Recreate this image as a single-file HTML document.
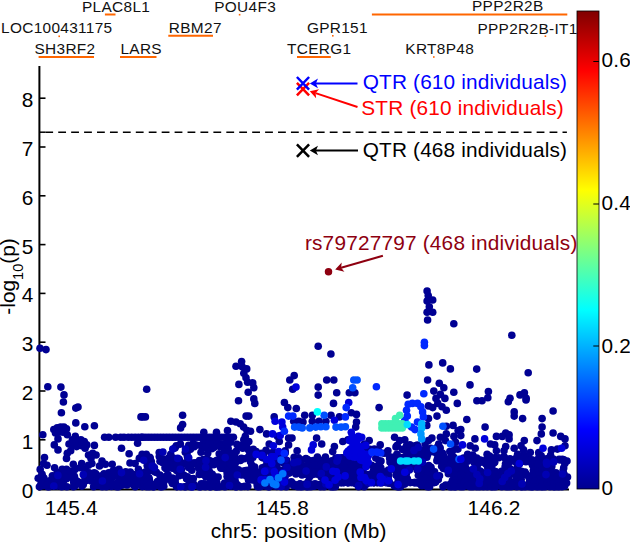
<!DOCTYPE html>
<html><head><meta charset="utf-8"><title>chr5 association plot</title>
<style>html,body{margin:0;padding:0;background:#fff;}svg{display:block;font-family:"Liberation Sans",sans-serif;}</style>
</head><body>
<svg width="630" height="543" viewBox="0 0 630 543">
<defs><linearGradient id="jet" x1="0" y1="1" x2="0" y2="0">
<stop offset="0" stop-color="#00008f"/><stop offset="0.125" stop-color="#0000ff"/><stop offset="0.375" stop-color="#00ffff"/>
<stop offset="0.625" stop-color="#ffff00"/><stop offset="0.875" stop-color="#ff0000"/><stop offset="1" stop-color="#800000"/>
</linearGradient></defs>
<rect width="630" height="543" fill="#fff"/>
<text x="82.0" y="11.7" font-size="15.4" fill="#111" text-anchor="start" letter-spacing="0.33" >PLAC8L1</text>
<text x="1.0" y="32.8" font-size="15.4" fill="#111" text-anchor="start" letter-spacing="0.33" >LOC100431175</text>
<text x="34.5" y="54.1" font-size="15.4" fill="#111" text-anchor="start" letter-spacing="0.33" >SH3RF2</text>
<text x="120.4" y="54.1" font-size="15.4" fill="#111" text-anchor="start" letter-spacing="0.33" >LARS</text>
<text x="168.8" y="33.1" font-size="15.4" fill="#111" text-anchor="start" letter-spacing="0.33" >RBM27</text>
<text x="214.2" y="11.7" font-size="15.4" fill="#111" text-anchor="start" letter-spacing="0.33" >POU4F3</text>
<text x="306.9" y="32.8" font-size="15.4" fill="#111" text-anchor="start" letter-spacing="0.33" >GPR151</text>
<text x="287.1" y="54.1" font-size="15.4" fill="#111" text-anchor="start" letter-spacing="0.33" >TCERG1</text>
<text x="405.3" y="54.3" font-size="15.4" fill="#111" text-anchor="start" letter-spacing="0.33" >KRT8P48</text>
<text x="472.0" y="11.4" font-size="15.4" fill="#111" text-anchor="start" letter-spacing="0.33" >PPP2R2B</text>
<text x="477.4" y="33.8" font-size="15.4" fill="#111" text-anchor="start" letter-spacing="0.33" >PPP2R2B-IT1</text>
<line x1="104.9" y1="14.5" x2="115.5" y2="14.5" stroke="#ff6600" stroke-width="2"/>
<line x1="38.6" y1="57.1" x2="94.0" y2="57.1" stroke="#ff6600" stroke-width="2"/>
<line x1="120.0" y1="57.1" x2="156.5" y2="57.1" stroke="#ff6600" stroke-width="2"/>
<line x1="168.3" y1="35.8" x2="213.0" y2="35.8" stroke="#ff6600" stroke-width="2"/>
<line x1="297.0" y1="57.1" x2="330.8" y2="57.1" stroke="#ff6600" stroke-width="2"/>
<line x1="371.9" y1="14.4" x2="567.3" y2="14.4" stroke="#ff6600" stroke-width="2"/>
<rect x="58.4" y="35.5" width="1.6" height="1.6" fill="#ff6600"/>
<rect x="238.8" y="13.9" width="1.6" height="1.6" fill="#ff6600"/>
<rect x="332.0" y="35.0" width="1.6" height="1.6" fill="#ff6600"/>
<rect x="433.0" y="56.2" width="1.6" height="1.6" fill="#ff6600"/>
<rect x="544.6" y="35.4" width="1.6" height="1.6" fill="#ff6600"/>
<line x1="39.4" y1="66" x2="39.4" y2="490.5" stroke="#000" stroke-width="2"/>
<line x1="38.4" y1="489.5" x2="569" y2="489.5" stroke="#000" stroke-width="2"/>
<text x="33.3" y="497.6" font-size="20.8" fill="#000" text-anchor="end" letter-spacing="0.00" >0</text>
<line x1="39.4" y1="439.8" x2="45.5" y2="439.8" stroke="#000" stroke-width="1.6"/>
<text x="33.3" y="448.8" font-size="20.8" fill="#000" text-anchor="end" letter-spacing="0.00" >1</text>
<line x1="39.4" y1="391.0" x2="45.5" y2="391.0" stroke="#000" stroke-width="1.6"/>
<text x="33.3" y="400.0" font-size="20.8" fill="#000" text-anchor="end" letter-spacing="0.00" >2</text>
<line x1="39.4" y1="342.2" x2="45.5" y2="342.2" stroke="#000" stroke-width="1.6"/>
<text x="33.3" y="351.2" font-size="20.8" fill="#000" text-anchor="end" letter-spacing="0.00" >3</text>
<line x1="39.4" y1="293.4" x2="45.5" y2="293.4" stroke="#000" stroke-width="1.6"/>
<text x="33.3" y="302.4" font-size="20.8" fill="#000" text-anchor="end" letter-spacing="0.00" >4</text>
<line x1="39.4" y1="244.6" x2="45.5" y2="244.6" stroke="#000" stroke-width="1.6"/>
<text x="33.3" y="253.6" font-size="20.8" fill="#000" text-anchor="end" letter-spacing="0.00" >5</text>
<line x1="39.4" y1="195.8" x2="45.5" y2="195.8" stroke="#000" stroke-width="1.6"/>
<text x="33.3" y="204.8" font-size="20.8" fill="#000" text-anchor="end" letter-spacing="0.00" >6</text>
<line x1="39.4" y1="147.0" x2="45.5" y2="147.0" stroke="#000" stroke-width="1.6"/>
<text x="33.3" y="156.0" font-size="20.8" fill="#000" text-anchor="end" letter-spacing="0.00" >7</text>
<line x1="39.4" y1="98.2" x2="45.5" y2="98.2" stroke="#000" stroke-width="1.6"/>
<text x="33.3" y="107.2" font-size="20.8" fill="#000" text-anchor="end" letter-spacing="0.00" >8</text>
<line x1="71.3" y1="489" x2="71.3" y2="483" stroke="#000" stroke-width="1.6"/>
<text x="71.3" y="515.4" font-size="20.8" fill="#000" text-anchor="middle" letter-spacing="0.20" >145.4</text>
<line x1="282.6" y1="489" x2="282.6" y2="483" stroke="#000" stroke-width="1.6"/>
<text x="282.6" y="515.4" font-size="20.8" fill="#000" text-anchor="middle" letter-spacing="0.20" >145.8</text>
<line x1="494.0" y1="489" x2="494.0" y2="483" stroke="#000" stroke-width="1.6"/>
<text x="494.0" y="515.4" font-size="20.8" fill="#000" text-anchor="middle" letter-spacing="0.20" >146.2</text>
<text x="298.7" y="537.9" font-size="20.8" fill="#000" text-anchor="middle" letter-spacing="0.20" >chr5: position (Mb)</text>
<text transform="translate(14.5,276.5) rotate(-90)" font-size="20.8" text-anchor="middle" fill="#000">-log<tspan font-size="14.5" dy="8">10</tspan><tspan dy="-8">(p)</tspan></text>
<line x1="39.4" y1="132.2" x2="45.3" y2="132.2" stroke="#000" stroke-width="1.5"/>
<line x1="45.3" y1="132.2" x2="566.9" y2="132.2" stroke="#000" stroke-width="1.5" stroke-dasharray="7.8,5.13"/>
<rect x="577" y="11" width="22" height="478" fill="url(#jet)" stroke="#000" stroke-width="0.8"/>
<text x="601.6" y="495.3" font-size="20.8" fill="#000" text-anchor="start" letter-spacing="0.20" >0</text>
<line x1="593.3" y1="346.0" x2="599" y2="346.0" stroke="#000" stroke-width="1"/>
<text x="601.6" y="352.8" font-size="20.8" fill="#000" text-anchor="start" letter-spacing="0.20" >0.2</text>
<line x1="593.3" y1="204.0" x2="599" y2="204.0" stroke="#000" stroke-width="1"/>
<text x="601.6" y="210.2" font-size="20.8" fill="#000" text-anchor="start" letter-spacing="0.20" >0.4</text>
<line x1="593.3" y1="61.5" x2="599" y2="61.5" stroke="#000" stroke-width="1"/>
<text x="601.6" y="67.3" font-size="20.8" fill="#000" text-anchor="start" letter-spacing="0.20" >0.6</text>
<circle cx="63.2" cy="475.7" r="3.8" fill="#000093"/><circle cx="68.3" cy="476.2" r="3.8" fill="#000093"/><circle cx="84.3" cy="475.7" r="3.8" fill="#000093"/><circle cx="38.2" cy="478.3" r="3.8" fill="#000093"/><circle cx="40.3" cy="477.7" r="3.8" fill="#000093"/><circle cx="56.0" cy="479.6" r="3.8" fill="#000093"/><circle cx="59.3" cy="480.2" r="3.8" fill="#000093"/><circle cx="65.3" cy="477.3" r="3.8" fill="#000093"/><circle cx="66.5" cy="478.8" r="3.8" fill="#000093"/><circle cx="73.1" cy="479.1" r="3.8" fill="#000093"/><circle cx="86.3" cy="480.5" r="3.8" fill="#000093"/><circle cx="42.6" cy="485.0" r="3.8" fill="#000093"/><circle cx="45.9" cy="483.7" r="3.8" fill="#000093"/><circle cx="49.3" cy="481.6" r="3.8" fill="#000093"/><circle cx="53.5" cy="482.1" r="3.8" fill="#000093"/><circle cx="57.6" cy="482.9" r="3.8" fill="#000093"/><circle cx="78.1" cy="481.8" r="3.8" fill="#000093"/><circle cx="79.7" cy="483.0" r="3.8" fill="#000093"/><circle cx="83.1" cy="482.8" r="3.8" fill="#000093"/><circle cx="39.4" cy="486.7" r="3.8" fill="#000093"/><circle cx="42.7" cy="485.7" r="3.8" fill="#000093"/><circle cx="47.7" cy="486.7" r="3.8" fill="#000093"/><circle cx="49.1" cy="486.7" r="3.8" fill="#000093"/><circle cx="57.3" cy="486.1" r="3.8" fill="#000093"/><circle cx="61.7" cy="486.7" r="3.8" fill="#000093"/><circle cx="66.9" cy="486.7" r="3.8" fill="#000093"/><circle cx="73.4" cy="486.7" r="3.8" fill="#000093"/><circle cx="74.8" cy="485.9" r="3.8" fill="#000093"/><circle cx="81.9" cy="486.1" r="3.8" fill="#000093"/><circle cx="124.9" cy="475.5" r="3.8" fill="#000093"/><circle cx="129.2" cy="474.6" r="3.8" fill="#000093"/><circle cx="140.0" cy="474.4" r="3.8" fill="#000093"/><circle cx="111.2" cy="479.5" r="3.8" fill="#000093"/><circle cx="125.2" cy="479.0" r="3.8" fill="#000093"/><circle cx="126.7" cy="479.1" r="3.8" fill="#000093"/><circle cx="134.1" cy="477.6" r="3.8" fill="#000093"/><circle cx="137.4" cy="476.7" r="3.8" fill="#000093"/><circle cx="99.7" cy="482.9" r="3.8" fill="#000093"/><circle cx="107.0" cy="482.4" r="3.8" fill="#000093"/><circle cx="112.2" cy="483.5" r="3.8" fill="#000093"/><circle cx="119.7" cy="481.3" r="3.8" fill="#000093"/><circle cx="125.2" cy="481.7" r="3.8" fill="#000093"/><circle cx="129.5" cy="482.0" r="3.8" fill="#000093"/><circle cx="132.4" cy="482.3" r="3.8" fill="#000093"/><circle cx="135.4" cy="480.4" r="3.8" fill="#000093"/><circle cx="140.8" cy="483.1" r="3.8" fill="#000093"/><circle cx="93.6" cy="486.7" r="3.8" fill="#000093"/><circle cx="98.1" cy="485.6" r="3.8" fill="#000093"/><circle cx="102.2" cy="486.7" r="3.8" fill="#000093"/><circle cx="106.3" cy="486.7" r="3.8" fill="#000093"/><circle cx="111.5" cy="486.4" r="3.8" fill="#000093"/><circle cx="116.7" cy="486.7" r="3.8" fill="#000093"/><circle cx="118.5" cy="486.7" r="3.8" fill="#000093"/><circle cx="122.3" cy="485.1" r="3.8" fill="#000093"/><circle cx="127.0" cy="484.9" r="3.8" fill="#000093"/><circle cx="133.8" cy="485.2" r="3.8" fill="#000093"/><circle cx="135.2" cy="486.7" r="3.8" fill="#000093"/><circle cx="203.8" cy="441.0" r="3.8" fill="#000093"/><circle cx="213.4" cy="440.5" r="3.8" fill="#000093"/><circle cx="243.8" cy="439.9" r="3.8" fill="#000093"/><circle cx="176.3" cy="445.7" r="3.8" fill="#000093"/><circle cx="180.4" cy="444.1" r="3.8" fill="#000093"/><circle cx="188.7" cy="445.4" r="3.8" fill="#000093"/><circle cx="193.2" cy="443.5" r="3.8" fill="#000093"/><circle cx="196.3" cy="445.0" r="3.8" fill="#000093"/><circle cx="200.6" cy="445.4" r="3.8" fill="#000093"/><circle cx="205.7" cy="443.1" r="3.8" fill="#000093"/><circle cx="209.5" cy="443.9" r="3.8" fill="#000093"/><circle cx="216.9" cy="444.3" r="3.8" fill="#000093"/><circle cx="218.7" cy="443.5" r="3.8" fill="#000093"/><circle cx="223.6" cy="444.1" r="3.8" fill="#000093"/><circle cx="226.1" cy="443.2" r="3.8" fill="#000093"/><circle cx="230.6" cy="442.3" r="3.8" fill="#000093"/><circle cx="236.9" cy="444.2" r="3.8" fill="#000093"/><circle cx="241.7" cy="445.5" r="3.8" fill="#000093"/><circle cx="247.0" cy="442.8" r="3.8" fill="#000093"/><circle cx="175.0" cy="447.9" r="3.8" fill="#000093"/><circle cx="190.4" cy="449.3" r="3.8" fill="#000093"/><circle cx="194.2" cy="446.7" r="3.8" fill="#000093"/><circle cx="203.1" cy="447.3" r="3.8" fill="#000093"/><circle cx="206.5" cy="447.9" r="3.8" fill="#000093"/><circle cx="211.8" cy="448.8" r="3.8" fill="#000093"/><circle cx="213.8" cy="447.5" r="3.8" fill="#000093"/><circle cx="219.7" cy="446.5" r="3.8" fill="#000093"/><circle cx="224.4" cy="449.1" r="3.8" fill="#000093"/><circle cx="228.1" cy="448.3" r="3.8" fill="#000093"/><circle cx="238.3" cy="446.6" r="3.8" fill="#000093"/><circle cx="242.7" cy="448.2" r="3.8" fill="#000093"/><circle cx="246.9" cy="447.3" r="3.8" fill="#000093"/><circle cx="142.1" cy="454.4" r="3.8" fill="#000093"/><circle cx="146.3" cy="454.2" r="3.8" fill="#000093"/><circle cx="159.2" cy="452.5" r="3.8" fill="#000093"/><circle cx="170.7" cy="454.3" r="3.8" fill="#000093"/><circle cx="185.3" cy="452.2" r="3.8" fill="#000093"/><circle cx="187.6" cy="451.2" r="3.8" fill="#000093"/><circle cx="201.0" cy="452.2" r="3.8" fill="#000093"/><circle cx="207.7" cy="453.2" r="3.8" fill="#000093"/><circle cx="219.2" cy="453.7" r="3.8" fill="#000093"/><circle cx="222.0" cy="454.3" r="3.8" fill="#000093"/><circle cx="227.4" cy="451.9" r="3.8" fill="#000093"/><circle cx="231.4" cy="453.3" r="3.8" fill="#000093"/><circle cx="236.2" cy="451.4" r="3.8" fill="#000093"/><circle cx="143.9" cy="456.8" r="3.8" fill="#000093"/><circle cx="144.7" cy="456.4" r="3.8" fill="#000093"/><circle cx="149.7" cy="457.3" r="3.8" fill="#000093"/><circle cx="159.3" cy="456.5" r="3.8" fill="#000093"/><circle cx="162.7" cy="458.8" r="3.8" fill="#000093"/><circle cx="168.3" cy="458.4" r="3.8" fill="#000093"/><circle cx="171.1" cy="456.6" r="3.8" fill="#000093"/><circle cx="187.4" cy="456.6" r="3.8" fill="#000093"/><circle cx="207.2" cy="458.7" r="3.8" fill="#000093"/><circle cx="220.5" cy="456.0" r="3.8" fill="#000093"/><circle cx="223.0" cy="455.6" r="3.8" fill="#000093"/><circle cx="228.8" cy="455.5" r="3.8" fill="#000093"/><circle cx="232.6" cy="456.6" r="3.8" fill="#000093"/><circle cx="234.7" cy="456.2" r="3.8" fill="#000093"/><circle cx="241.4" cy="458.4" r="3.8" fill="#000093"/><circle cx="244.2" cy="458.7" r="3.8" fill="#000093"/><circle cx="147.0" cy="461.0" r="3.8" fill="#000093"/><circle cx="162.4" cy="462.4" r="3.8" fill="#000093"/><circle cx="166.7" cy="463.1" r="3.8" fill="#000093"/><circle cx="171.1" cy="460.2" r="3.8" fill="#000093"/><circle cx="178.1" cy="461.3" r="3.8" fill="#000093"/><circle cx="180.4" cy="461.9" r="3.8" fill="#000093"/><circle cx="187.9" cy="459.6" r="3.8" fill="#000093"/><circle cx="195.1" cy="462.7" r="3.8" fill="#000093"/><circle cx="199.5" cy="460.6" r="3.8" fill="#000093"/><circle cx="203.1" cy="459.5" r="3.8" fill="#000093"/><circle cx="210.0" cy="460.7" r="3.8" fill="#000093"/><circle cx="216.9" cy="460.2" r="3.8" fill="#000093"/><circle cx="220.6" cy="461.0" r="3.8" fill="#000093"/><circle cx="223.2" cy="462.9" r="3.8" fill="#000093"/><circle cx="229.5" cy="459.5" r="3.8" fill="#000093"/><circle cx="233.3" cy="459.5" r="3.8" fill="#000093"/><circle cx="238.2" cy="460.4" r="3.8" fill="#000093"/><circle cx="240.3" cy="460.4" r="3.8" fill="#000093"/><circle cx="167.5" cy="465.6" r="3.8" fill="#000093"/><circle cx="173.2" cy="466.5" r="3.8" fill="#000093"/><circle cx="176.8" cy="464.9" r="3.8" fill="#000093"/><circle cx="181.8" cy="464.0" r="3.8" fill="#000093"/><circle cx="184.0" cy="463.9" r="3.8" fill="#000093"/><circle cx="188.6" cy="467.4" r="3.8" fill="#000093"/><circle cx="192.7" cy="464.0" r="3.8" fill="#000093"/><circle cx="198.7" cy="465.4" r="3.8" fill="#000093"/><circle cx="202.7" cy="466.3" r="3.8" fill="#000093"/><circle cx="207.1" cy="464.2" r="3.8" fill="#000093"/><circle cx="211.1" cy="465.1" r="3.8" fill="#000093"/><circle cx="214.1" cy="464.6" r="3.8" fill="#000093"/><circle cx="219.7" cy="464.9" r="3.8" fill="#000093"/><circle cx="223.7" cy="464.6" r="3.8" fill="#000093"/><circle cx="229.9" cy="464.1" r="3.8" fill="#000093"/><circle cx="233.6" cy="467.2" r="3.8" fill="#000093"/><circle cx="147.4" cy="471.6" r="3.8" fill="#000093"/><circle cx="151.1" cy="468.8" r="3.8" fill="#000093"/><circle cx="153.8" cy="469.0" r="3.8" fill="#000093"/><circle cx="166.6" cy="469.2" r="3.8" fill="#000093"/><circle cx="172.3" cy="468.2" r="3.8" fill="#000093"/><circle cx="176.6" cy="470.4" r="3.8" fill="#000093"/><circle cx="181.4" cy="469.5" r="3.8" fill="#000093"/><circle cx="199.8" cy="469.4" r="3.8" fill="#000093"/><circle cx="201.1" cy="468.0" r="3.8" fill="#000093"/><circle cx="207.7" cy="469.5" r="3.8" fill="#000093"/><circle cx="221.0" cy="468.3" r="3.8" fill="#000093"/><circle cx="223.7" cy="468.5" r="3.8" fill="#000093"/><circle cx="229.6" cy="468.4" r="3.8" fill="#000093"/><circle cx="234.1" cy="468.7" r="3.8" fill="#000093"/><circle cx="238.4" cy="469.8" r="3.8" fill="#000093"/><circle cx="240.5" cy="471.4" r="3.8" fill="#000093"/><circle cx="243.9" cy="471.0" r="3.8" fill="#000093"/><circle cx="143.3" cy="475.4" r="3.8" fill="#000093"/><circle cx="145.9" cy="474.3" r="3.8" fill="#000093"/><circle cx="156.4" cy="472.4" r="3.8" fill="#000093"/><circle cx="168.0" cy="474.7" r="3.8" fill="#000093"/><circle cx="180.5" cy="472.4" r="3.8" fill="#000093"/><circle cx="184.0" cy="475.2" r="3.8" fill="#000093"/><circle cx="202.0" cy="474.2" r="3.8" fill="#000093"/><circle cx="204.9" cy="475.1" r="3.8" fill="#000093"/><circle cx="209.1" cy="474.2" r="3.8" fill="#000093"/><circle cx="228.0" cy="475.9" r="3.8" fill="#000093"/><circle cx="233.4" cy="475.8" r="3.8" fill="#000093"/><circle cx="237.6" cy="472.9" r="3.8" fill="#000093"/><circle cx="242.1" cy="472.8" r="3.8" fill="#000093"/><circle cx="244.1" cy="473.3" r="3.8" fill="#000093"/><circle cx="145.0" cy="480.1" r="3.8" fill="#000093"/><circle cx="149.3" cy="479.6" r="3.8" fill="#000093"/><circle cx="160.6" cy="478.7" r="3.8" fill="#000093"/><circle cx="162.0" cy="480.4" r="3.8" fill="#000093"/><circle cx="172.4" cy="478.0" r="3.8" fill="#000093"/><circle cx="175.2" cy="479.4" r="3.8" fill="#000093"/><circle cx="186.8" cy="478.8" r="3.8" fill="#000093"/><circle cx="187.4" cy="476.7" r="3.8" fill="#000093"/><circle cx="193.3" cy="478.5" r="3.8" fill="#000093"/><circle cx="205.9" cy="477.0" r="3.8" fill="#000093"/><circle cx="211.1" cy="478.8" r="3.8" fill="#000093"/><circle cx="215.0" cy="477.1" r="3.8" fill="#000093"/><circle cx="218.1" cy="477.0" r="3.8" fill="#000093"/><circle cx="227.1" cy="476.6" r="3.8" fill="#000093"/><circle cx="231.7" cy="479.0" r="3.8" fill="#000093"/><circle cx="147.4" cy="480.9" r="3.8" fill="#000093"/><circle cx="149.2" cy="481.6" r="3.8" fill="#000093"/><circle cx="155.4" cy="484.0" r="3.8" fill="#000093"/><circle cx="158.4" cy="481.1" r="3.8" fill="#000093"/><circle cx="164.3" cy="480.9" r="3.8" fill="#000093"/><circle cx="171.9" cy="481.7" r="3.8" fill="#000093"/><circle cx="174.6" cy="482.2" r="3.8" fill="#000093"/><circle cx="189.1" cy="483.9" r="3.8" fill="#000093"/><circle cx="194.1" cy="484.6" r="3.8" fill="#000093"/><circle cx="201.2" cy="483.7" r="3.8" fill="#000093"/><circle cx="205.8" cy="484.2" r="3.8" fill="#000093"/><circle cx="212.3" cy="483.3" r="3.8" fill="#000093"/><circle cx="216.9" cy="482.7" r="3.8" fill="#000093"/><circle cx="224.6" cy="483.1" r="3.8" fill="#000093"/><circle cx="228.5" cy="481.2" r="3.8" fill="#000093"/><circle cx="230.5" cy="481.3" r="3.8" fill="#000093"/><circle cx="235.2" cy="481.0" r="3.8" fill="#000093"/><circle cx="142.3" cy="486.6" r="3.8" fill="#000093"/><circle cx="147.8" cy="485.4" r="3.8" fill="#000093"/><circle cx="152.3" cy="485.6" r="3.8" fill="#000093"/><circle cx="153.1" cy="486.7" r="3.8" fill="#000093"/><circle cx="160.4" cy="486.7" r="3.8" fill="#000093"/><circle cx="162.0" cy="486.7" r="3.8" fill="#000093"/><circle cx="177.2" cy="486.6" r="3.8" fill="#000093"/><circle cx="184.7" cy="486.7" r="3.8" fill="#000093"/><circle cx="190.1" cy="486.7" r="3.8" fill="#000093"/><circle cx="200.3" cy="486.7" r="3.8" fill="#000093"/><circle cx="205.3" cy="486.7" r="3.8" fill="#000093"/><circle cx="209.9" cy="486.7" r="3.8" fill="#000093"/><circle cx="215.9" cy="486.7" r="3.8" fill="#000093"/><circle cx="217.8" cy="486.7" r="3.8" fill="#000093"/><circle cx="224.2" cy="486.5" r="3.8" fill="#000093"/><circle cx="231.2" cy="486.2" r="3.8" fill="#000093"/><circle cx="236.1" cy="486.7" r="3.8" fill="#000093"/><circle cx="241.0" cy="486.7" r="3.8" fill="#000093"/><circle cx="244.6" cy="486.4" r="3.8" fill="#000093"/><circle cx="248.6" cy="450.0" r="3.8" fill="#000093"/><circle cx="253.3" cy="449.4" r="3.8" fill="#000093"/><circle cx="266.0" cy="450.4" r="3.8" fill="#000093"/><circle cx="285.2" cy="450.9" r="3.8" fill="#000093"/><circle cx="249.8" cy="454.5" r="3.8" fill="#000093"/><circle cx="251.1" cy="453.9" r="3.8" fill="#000093"/><circle cx="256.2" cy="451.6" r="3.8" fill="#000093"/><circle cx="261.6" cy="453.4" r="3.8" fill="#000093"/><circle cx="263.8" cy="453.8" r="3.8" fill="#000093"/><circle cx="271.1" cy="453.1" r="3.8" fill="#000093"/><circle cx="273.5" cy="452.4" r="3.8" fill="#000093"/><circle cx="279.1" cy="454.2" r="3.8" fill="#000093"/><circle cx="282.9" cy="453.2" r="3.8" fill="#000093"/><circle cx="285.2" cy="453.1" r="3.8" fill="#000093"/><circle cx="248.5" cy="456.8" r="3.8" fill="#000093"/><circle cx="252.8" cy="457.4" r="3.8" fill="#000093"/><circle cx="262.0" cy="457.3" r="3.8" fill="#000093"/><circle cx="263.4" cy="457.9" r="3.8" fill="#000093"/><circle cx="271.2" cy="457.8" r="3.8" fill="#000093"/><circle cx="274.0" cy="458.5" r="3.8" fill="#000093"/><circle cx="279.4" cy="457.8" r="3.8" fill="#000093"/><circle cx="281.3" cy="458.4" r="3.8" fill="#000093"/><circle cx="250.5" cy="461.7" r="3.8" fill="#000093"/><circle cx="266.9" cy="462.1" r="3.8" fill="#000093"/><circle cx="269.1" cy="460.9" r="3.8" fill="#000093"/><circle cx="275.0" cy="462.5" r="3.8" fill="#000093"/><circle cx="277.1" cy="463.8" r="3.8" fill="#000093"/><circle cx="283.6" cy="463.2" r="3.8" fill="#000093"/><circle cx="286.9" cy="460.6" r="3.8" fill="#000093"/><circle cx="251.8" cy="465.4" r="3.8" fill="#000093"/><circle cx="254.7" cy="467.1" r="3.8" fill="#000093"/><circle cx="264.9" cy="466.8" r="3.8" fill="#000093"/><circle cx="271.1" cy="467.6" r="3.8" fill="#000093"/><circle cx="275.3" cy="467.4" r="3.8" fill="#000093"/><circle cx="287.3" cy="465.4" r="3.8" fill="#000093"/><circle cx="251.7" cy="469.3" r="3.8" fill="#000093"/><circle cx="255.3" cy="472.1" r="3.8" fill="#000093"/><circle cx="261.5" cy="472.1" r="3.8" fill="#000093"/><circle cx="264.1" cy="471.3" r="3.8" fill="#000093"/><circle cx="269.3" cy="472.1" r="3.8" fill="#000093"/><circle cx="278.0" cy="469.3" r="3.8" fill="#000093"/><circle cx="282.6" cy="472.0" r="3.8" fill="#000093"/><circle cx="286.6" cy="470.8" r="3.8" fill="#000093"/><circle cx="254.1" cy="473.3" r="3.8" fill="#000093"/><circle cx="254.8" cy="475.3" r="3.8" fill="#000093"/><circle cx="260.3" cy="476.7" r="3.8" fill="#000093"/><circle cx="266.7" cy="473.1" r="3.8" fill="#000093"/><circle cx="268.9" cy="476.3" r="3.8" fill="#000093"/><circle cx="273.9" cy="475.9" r="3.8" fill="#000093"/><circle cx="277.8" cy="475.1" r="3.8" fill="#000093"/><circle cx="283.6" cy="474.5" r="3.8" fill="#000093"/><circle cx="248.6" cy="480.3" r="3.8" fill="#000093"/><circle cx="251.5" cy="479.5" r="3.8" fill="#000093"/><circle cx="254.9" cy="480.0" r="3.8" fill="#000093"/><circle cx="259.2" cy="478.4" r="3.8" fill="#000093"/><circle cx="266.8" cy="479.6" r="3.8" fill="#000093"/><circle cx="271.1" cy="479.6" r="3.8" fill="#000093"/><circle cx="274.5" cy="479.6" r="3.8" fill="#000093"/><circle cx="278.7" cy="479.0" r="3.8" fill="#000093"/><circle cx="281.2" cy="477.4" r="3.8" fill="#000093"/><circle cx="260.2" cy="483.2" r="3.8" fill="#000093"/><circle cx="263.5" cy="483.8" r="3.8" fill="#000093"/><circle cx="270.7" cy="483.8" r="3.8" fill="#000093"/><circle cx="272.0" cy="483.1" r="3.8" fill="#000093"/><circle cx="279.9" cy="483.4" r="3.8" fill="#000093"/><circle cx="284.8" cy="484.2" r="3.8" fill="#000093"/><circle cx="257.4" cy="486.7" r="3.8" fill="#000093"/><circle cx="259.2" cy="486.7" r="3.8" fill="#000093"/><circle cx="266.1" cy="486.2" r="3.8" fill="#000093"/><circle cx="269.4" cy="486.7" r="3.8" fill="#000093"/><circle cx="274.6" cy="485.9" r="3.8" fill="#000093"/><circle cx="279.3" cy="486.2" r="3.8" fill="#000093"/><circle cx="286.2" cy="486.7" r="3.8" fill="#000093"/><circle cx="294.1" cy="457.3" r="3.8" fill="#000093"/><circle cx="298.5" cy="457.8" r="3.8" fill="#000093"/><circle cx="305.9" cy="458.5" r="3.8" fill="#000093"/><circle cx="317.4" cy="457.1" r="3.8" fill="#000093"/><circle cx="325.4" cy="457.1" r="3.8" fill="#000093"/><circle cx="343.2" cy="457.9" r="3.8" fill="#000093"/><circle cx="345.4" cy="458.1" r="3.8" fill="#000093"/><circle cx="295.8" cy="459.9" r="3.8" fill="#000093"/><circle cx="297.9" cy="461.4" r="3.8" fill="#000093"/><circle cx="302.1" cy="460.1" r="3.8" fill="#000093"/><circle cx="307.4" cy="459.5" r="3.8" fill="#000093"/><circle cx="310.8" cy="461.3" r="3.8" fill="#000093"/><circle cx="316.2" cy="460.9" r="3.8" fill="#000093"/><circle cx="319.3" cy="459.8" r="3.8" fill="#000093"/><circle cx="325.0" cy="460.7" r="3.8" fill="#000093"/><circle cx="327.3" cy="462.9" r="3.8" fill="#000093"/><circle cx="333.8" cy="462.1" r="3.8" fill="#000093"/><circle cx="343.8" cy="462.4" r="3.8" fill="#000093"/><circle cx="345.3" cy="462.1" r="3.8" fill="#000093"/><circle cx="351.5" cy="462.2" r="3.8" fill="#000093"/><circle cx="293.4" cy="463.7" r="3.8" fill="#000093"/><circle cx="300.3" cy="465.2" r="3.8" fill="#000093"/><circle cx="301.6" cy="465.7" r="3.8" fill="#000093"/><circle cx="309.3" cy="464.4" r="3.8" fill="#000093"/><circle cx="313.6" cy="466.0" r="3.8" fill="#000093"/><circle cx="319.4" cy="463.6" r="3.8" fill="#000093"/><circle cx="330.1" cy="466.1" r="3.8" fill="#000093"/><circle cx="331.6" cy="464.0" r="3.8" fill="#000093"/><circle cx="338.3" cy="464.6" r="3.8" fill="#000093"/><circle cx="340.4" cy="464.7" r="3.8" fill="#000093"/><circle cx="346.2" cy="464.1" r="3.8" fill="#000093"/><circle cx="351.2" cy="463.5" r="3.8" fill="#000093"/><circle cx="293.6" cy="471.3" r="3.8" fill="#000093"/><circle cx="297.6" cy="469.4" r="3.8" fill="#000093"/><circle cx="304.5" cy="470.1" r="3.8" fill="#000093"/><circle cx="308.8" cy="469.5" r="3.8" fill="#000093"/><circle cx="310.8" cy="467.9" r="3.8" fill="#000093"/><circle cx="314.8" cy="471.0" r="3.8" fill="#000093"/><circle cx="319.1" cy="468.8" r="3.8" fill="#000093"/><circle cx="323.5" cy="469.6" r="3.8" fill="#000093"/><circle cx="327.6" cy="471.4" r="3.8" fill="#000093"/><circle cx="334.0" cy="468.5" r="3.8" fill="#000093"/><circle cx="336.7" cy="468.5" r="3.8" fill="#000093"/><circle cx="343.8" cy="471.2" r="3.8" fill="#000093"/><circle cx="347.7" cy="467.9" r="3.8" fill="#000093"/><circle cx="352.3" cy="467.8" r="3.8" fill="#000093"/><circle cx="295.9" cy="474.0" r="3.8" fill="#000093"/><circle cx="300.5" cy="472.9" r="3.8" fill="#000093"/><circle cx="302.0" cy="474.9" r="3.8" fill="#000093"/><circle cx="305.9" cy="472.4" r="3.8" fill="#000093"/><circle cx="311.0" cy="472.8" r="3.8" fill="#000093"/><circle cx="317.3" cy="474.2" r="3.8" fill="#000093"/><circle cx="325.9" cy="473.3" r="3.8" fill="#000093"/><circle cx="329.0" cy="472.1" r="3.8" fill="#000093"/><circle cx="334.7" cy="473.0" r="3.8" fill="#000093"/><circle cx="337.1" cy="472.6" r="3.8" fill="#000093"/><circle cx="340.0" cy="474.0" r="3.8" fill="#000093"/><circle cx="344.8" cy="474.7" r="3.8" fill="#000093"/><circle cx="349.8" cy="474.7" r="3.8" fill="#000093"/><circle cx="309.3" cy="477.2" r="3.8" fill="#000093"/><circle cx="321.2" cy="477.1" r="3.8" fill="#000093"/><circle cx="325.0" cy="478.3" r="3.8" fill="#000093"/><circle cx="330.4" cy="479.0" r="3.8" fill="#000093"/><circle cx="333.3" cy="478.2" r="3.8" fill="#000093"/><circle cx="337.3" cy="476.8" r="3.8" fill="#000093"/><circle cx="340.6" cy="478.5" r="3.8" fill="#000093"/><circle cx="347.5" cy="479.9" r="3.8" fill="#000093"/><circle cx="351.8" cy="478.3" r="3.8" fill="#000093"/><circle cx="291.4" cy="481.9" r="3.8" fill="#000093"/><circle cx="294.4" cy="484.4" r="3.8" fill="#000093"/><circle cx="300.1" cy="483.8" r="3.8" fill="#000093"/><circle cx="305.0" cy="484.2" r="3.8" fill="#000093"/><circle cx="308.0" cy="482.0" r="3.8" fill="#000093"/><circle cx="322.2" cy="483.6" r="3.8" fill="#000093"/><circle cx="329.6" cy="481.6" r="3.8" fill="#000093"/><circle cx="333.5" cy="484.1" r="3.8" fill="#000093"/><circle cx="337.7" cy="482.3" r="3.8" fill="#000093"/><circle cx="341.2" cy="482.6" r="3.8" fill="#000093"/><circle cx="348.0" cy="482.6" r="3.8" fill="#000093"/><circle cx="350.7" cy="481.2" r="3.8" fill="#000093"/><circle cx="293.8" cy="485.8" r="3.8" fill="#000093"/><circle cx="300.2" cy="486.7" r="3.8" fill="#000093"/><circle cx="302.1" cy="486.7" r="3.8" fill="#000093"/><circle cx="308.0" cy="486.7" r="3.8" fill="#000093"/><circle cx="310.8" cy="486.7" r="3.8" fill="#000093"/><circle cx="314.3" cy="486.3" r="3.8" fill="#000093"/><circle cx="320.6" cy="486.7" r="3.8" fill="#000093"/><circle cx="324.0" cy="486.7" r="3.8" fill="#000093"/><circle cx="330.4" cy="486.6" r="3.8" fill="#000093"/><circle cx="333.1" cy="486.7" r="3.8" fill="#000093"/><circle cx="339.4" cy="482.6" r="3.8" fill="#000093"/><circle cx="341.4" cy="482.6" r="3.8" fill="#000093"/><circle cx="347.5" cy="482.6" r="3.8" fill="#000093"/><circle cx="351.5" cy="482.6" r="3.8" fill="#000093"/><circle cx="397.2" cy="445.4" r="3.8" fill="#000093"/><circle cx="406.6" cy="445.6" r="3.8" fill="#000093"/><circle cx="417.3" cy="445.1" r="3.8" fill="#000093"/><circle cx="355.6" cy="449.2" r="3.8" fill="#000093"/><circle cx="365.1" cy="449.7" r="3.8" fill="#000093"/><circle cx="370.0" cy="449.2" r="3.8" fill="#000093"/><circle cx="374.2" cy="449.7" r="3.8" fill="#000093"/><circle cx="396.0" cy="446.9" r="3.8" fill="#000093"/><circle cx="402.5" cy="449.4" r="3.8" fill="#000093"/><circle cx="405.6" cy="448.7" r="3.8" fill="#000093"/><circle cx="410.2" cy="447.1" r="3.8" fill="#000093"/><circle cx="424.1" cy="450.0" r="3.8" fill="#000093"/><circle cx="426.3" cy="449.3" r="3.8" fill="#000093"/><circle cx="430.8" cy="448.4" r="3.8" fill="#000093"/><circle cx="437.2" cy="447.4" r="3.8" fill="#000093"/><circle cx="440.2" cy="448.1" r="3.8" fill="#000093"/><circle cx="454.7" cy="449.1" r="3.8" fill="#000093"/><circle cx="457.9" cy="449.1" r="3.8" fill="#000093"/><circle cx="355.7" cy="452.9" r="3.8" fill="#000093"/><circle cx="357.7" cy="454.4" r="3.8" fill="#000093"/><circle cx="363.3" cy="452.8" r="3.8" fill="#000093"/><circle cx="366.4" cy="453.3" r="3.8" fill="#000093"/><circle cx="371.4" cy="452.6" r="3.8" fill="#000093"/><circle cx="377.0" cy="453.1" r="3.8" fill="#000093"/><circle cx="378.9" cy="451.4" r="3.8" fill="#000093"/><circle cx="384.1" cy="453.2" r="3.8" fill="#000093"/><circle cx="386.9" cy="453.0" r="3.8" fill="#000093"/><circle cx="396.8" cy="454.3" r="3.8" fill="#000093"/><circle cx="406.4" cy="451.4" r="3.8" fill="#000093"/><circle cx="408.7" cy="454.7" r="3.8" fill="#000093"/><circle cx="412.8" cy="454.0" r="3.8" fill="#000093"/><circle cx="418.0" cy="451.1" r="3.8" fill="#000093"/><circle cx="422.0" cy="453.7" r="3.8" fill="#000093"/><circle cx="427.6" cy="454.4" r="3.8" fill="#000093"/><circle cx="432.8" cy="451.7" r="3.8" fill="#000093"/><circle cx="436.7" cy="453.6" r="3.8" fill="#000093"/><circle cx="439.5" cy="453.9" r="3.8" fill="#000093"/><circle cx="442.6" cy="453.4" r="3.8" fill="#000093"/><circle cx="449.8" cy="451.5" r="3.8" fill="#000093"/><circle cx="452.0" cy="451.8" r="3.8" fill="#000093"/><circle cx="359.4" cy="456.1" r="3.8" fill="#000093"/><circle cx="363.3" cy="456.8" r="3.8" fill="#000093"/><circle cx="367.0" cy="458.0" r="3.8" fill="#000093"/><circle cx="389.6" cy="457.9" r="3.8" fill="#000093"/><circle cx="391.4" cy="458.6" r="3.8" fill="#000093"/><circle cx="397.4" cy="455.7" r="3.8" fill="#000093"/><circle cx="402.8" cy="457.6" r="3.8" fill="#000093"/><circle cx="405.1" cy="457.1" r="3.8" fill="#000093"/><circle cx="409.3" cy="455.4" r="3.8" fill="#000093"/><circle cx="416.8" cy="455.9" r="3.8" fill="#000093"/><circle cx="421.9" cy="457.3" r="3.8" fill="#000093"/><circle cx="441.4" cy="458.3" r="3.8" fill="#000093"/><circle cx="443.8" cy="456.4" r="3.8" fill="#000093"/><circle cx="450.3" cy="458.0" r="3.8" fill="#000093"/><circle cx="453.8" cy="457.3" r="3.8" fill="#000093"/><circle cx="357.6" cy="463.4" r="3.8" fill="#000093"/><circle cx="361.6" cy="460.6" r="3.8" fill="#000093"/><circle cx="365.0" cy="463.0" r="3.8" fill="#000093"/><circle cx="379.0" cy="460.8" r="3.8" fill="#000093"/><circle cx="390.0" cy="461.9" r="3.8" fill="#000093"/><circle cx="393.0" cy="463.4" r="3.8" fill="#000093"/><circle cx="396.7" cy="463.0" r="3.8" fill="#000093"/><circle cx="404.3" cy="460.7" r="3.8" fill="#000093"/><circle cx="409.5" cy="460.4" r="3.8" fill="#000093"/><circle cx="414.8" cy="460.4" r="3.8" fill="#000093"/><circle cx="418.9" cy="460.0" r="3.8" fill="#000093"/><circle cx="422.2" cy="460.2" r="3.8" fill="#000093"/><circle cx="440.6" cy="461.2" r="3.8" fill="#000093"/><circle cx="442.6" cy="461.2" r="3.8" fill="#000093"/><circle cx="448.0" cy="461.5" r="3.8" fill="#000093"/><circle cx="452.8" cy="459.7" r="3.8" fill="#000093"/><circle cx="459.1" cy="459.9" r="3.8" fill="#000093"/><circle cx="357.0" cy="464.5" r="3.8" fill="#000093"/><circle cx="363.8" cy="465.6" r="3.8" fill="#000093"/><circle cx="371.6" cy="465.2" r="3.8" fill="#000093"/><circle cx="376.3" cy="466.9" r="3.8" fill="#000093"/><circle cx="380.8" cy="467.7" r="3.8" fill="#000093"/><circle cx="392.6" cy="466.5" r="3.8" fill="#000093"/><circle cx="398.9" cy="464.8" r="3.8" fill="#000093"/><circle cx="399.5" cy="464.5" r="3.8" fill="#000093"/><circle cx="405.8" cy="464.7" r="3.8" fill="#000093"/><circle cx="408.6" cy="464.6" r="3.8" fill="#000093"/><circle cx="412.9" cy="464.1" r="3.8" fill="#000093"/><circle cx="420.3" cy="465.9" r="3.8" fill="#000093"/><circle cx="423.9" cy="465.7" r="3.8" fill="#000093"/><circle cx="425.6" cy="466.7" r="3.8" fill="#000093"/><circle cx="431.0" cy="467.2" r="3.8" fill="#000093"/><circle cx="441.7" cy="466.3" r="3.8" fill="#000093"/><circle cx="443.4" cy="465.6" r="3.8" fill="#000093"/><circle cx="449.6" cy="466.4" r="3.8" fill="#000093"/><circle cx="451.8" cy="466.1" r="3.8" fill="#000093"/><circle cx="458.6" cy="465.0" r="3.8" fill="#000093"/><circle cx="358.2" cy="471.6" r="3.8" fill="#000093"/><circle cx="363.0" cy="470.0" r="3.8" fill="#000093"/><circle cx="376.9" cy="469.0" r="3.8" fill="#000093"/><circle cx="379.0" cy="468.4" r="3.8" fill="#000093"/><circle cx="382.2" cy="471.7" r="3.8" fill="#000093"/><circle cx="393.4" cy="468.6" r="3.8" fill="#000093"/><circle cx="399.5" cy="469.2" r="3.8" fill="#000093"/><circle cx="403.8" cy="470.2" r="3.8" fill="#000093"/><circle cx="417.1" cy="470.1" r="3.8" fill="#000093"/><circle cx="421.6" cy="470.9" r="3.8" fill="#000093"/><circle cx="427.1" cy="468.7" r="3.8" fill="#000093"/><circle cx="434.6" cy="471.9" r="3.8" fill="#000093"/><circle cx="443.4" cy="468.5" r="3.8" fill="#000093"/><circle cx="453.6" cy="470.7" r="3.8" fill="#000093"/><circle cx="457.9" cy="472.0" r="3.8" fill="#000093"/><circle cx="358.0" cy="476.3" r="3.8" fill="#000093"/><circle cx="365.0" cy="474.9" r="3.8" fill="#000093"/><circle cx="371.6" cy="474.0" r="3.8" fill="#000093"/><circle cx="374.0" cy="475.8" r="3.8" fill="#000093"/><circle cx="378.1" cy="475.2" r="3.8" fill="#000093"/><circle cx="386.5" cy="475.4" r="3.8" fill="#000093"/><circle cx="396.0" cy="475.0" r="3.8" fill="#000093"/><circle cx="402.1" cy="474.1" r="3.8" fill="#000093"/><circle cx="406.3" cy="473.8" r="3.8" fill="#000093"/><circle cx="418.4" cy="475.3" r="3.8" fill="#000093"/><circle cx="421.7" cy="473.1" r="3.8" fill="#000093"/><circle cx="427.2" cy="474.6" r="3.8" fill="#000093"/><circle cx="430.2" cy="475.7" r="3.8" fill="#000093"/><circle cx="439.5" cy="475.7" r="3.8" fill="#000093"/><circle cx="454.1" cy="474.5" r="3.8" fill="#000093"/><circle cx="456.8" cy="476.4" r="3.8" fill="#000093"/><circle cx="359.3" cy="477.4" r="3.8" fill="#000093"/><circle cx="362.7" cy="477.8" r="3.8" fill="#000093"/><circle cx="366.4" cy="476.9" r="3.8" fill="#000093"/><circle cx="369.5" cy="477.5" r="3.8" fill="#000093"/><circle cx="374.8" cy="477.8" r="3.8" fill="#000093"/><circle cx="380.3" cy="480.1" r="3.8" fill="#000093"/><circle cx="388.2" cy="478.3" r="3.8" fill="#000093"/><circle cx="398.2" cy="478.2" r="3.8" fill="#000093"/><circle cx="406.4" cy="478.3" r="3.8" fill="#000093"/><circle cx="423.8" cy="477.0" r="3.8" fill="#000093"/><circle cx="427.0" cy="480.1" r="3.8" fill="#000093"/><circle cx="432.9" cy="478.5" r="3.8" fill="#000093"/><circle cx="436.9" cy="479.4" r="3.8" fill="#000093"/><circle cx="438.3" cy="479.4" r="3.8" fill="#000093"/><circle cx="454.1" cy="477.2" r="3.8" fill="#000093"/><circle cx="457.4" cy="477.1" r="3.8" fill="#000093"/><circle cx="359.0" cy="482.7" r="3.8" fill="#000093"/><circle cx="363.8" cy="484.5" r="3.8" fill="#000093"/><circle cx="370.3" cy="482.2" r="3.8" fill="#000093"/><circle cx="376.9" cy="482.6" r="3.8" fill="#000093"/><circle cx="378.1" cy="482.3" r="3.8" fill="#000093"/><circle cx="388.5" cy="482.6" r="3.8" fill="#000093"/><circle cx="398.1" cy="481.9" r="3.8" fill="#000093"/><circle cx="399.6" cy="482.4" r="3.8" fill="#000093"/><circle cx="405.8" cy="482.4" r="3.8" fill="#000093"/><circle cx="415.3" cy="482.6" r="3.8" fill="#000093"/><circle cx="418.3" cy="482.6" r="3.8" fill="#000093"/><circle cx="423.3" cy="481.3" r="3.8" fill="#000093"/><circle cx="427.5" cy="481.8" r="3.8" fill="#000093"/><circle cx="432.5" cy="482.6" r="3.8" fill="#000093"/><circle cx="434.9" cy="482.0" r="3.8" fill="#000093"/><circle cx="449.7" cy="484.8" r="3.8" fill="#000093"/><circle cx="452.0" cy="484.6" r="3.8" fill="#000093"/><circle cx="455.5" cy="483.8" r="3.8" fill="#000093"/><circle cx="358.6" cy="486.7" r="3.8" fill="#000093"/><circle cx="364.2" cy="486.7" r="3.8" fill="#000093"/><circle cx="370.7" cy="482.6" r="3.8" fill="#000093"/><circle cx="374.0" cy="482.6" r="3.8" fill="#000093"/><circle cx="380.5" cy="482.6" r="3.8" fill="#000093"/><circle cx="385.7" cy="482.6" r="3.8" fill="#000093"/><circle cx="387.6" cy="482.6" r="3.8" fill="#000093"/><circle cx="394.3" cy="485.8" r="3.8" fill="#000093"/><circle cx="397.4" cy="486.7" r="3.8" fill="#000093"/><circle cx="400.4" cy="486.7" r="3.8" fill="#000093"/><circle cx="410.3" cy="482.6" r="3.8" fill="#000093"/><circle cx="414.8" cy="482.6" r="3.8" fill="#000093"/><circle cx="417.5" cy="482.6" r="3.8" fill="#000093"/><circle cx="422.0" cy="485.7" r="3.8" fill="#000093"/><circle cx="427.3" cy="486.7" r="3.8" fill="#000093"/><circle cx="429.6" cy="486.7" r="3.8" fill="#000093"/><circle cx="434.3" cy="482.6" r="3.8" fill="#000093"/><circle cx="443.0" cy="486.7" r="3.8" fill="#000093"/><circle cx="450.0" cy="486.7" r="3.8" fill="#000093"/><circle cx="454.3" cy="485.9" r="3.8" fill="#000093"/><circle cx="455.7" cy="486.7" r="3.8" fill="#000093"/><circle cx="472.7" cy="455.9" r="3.8" fill="#000093"/><circle cx="489.6" cy="456.0" r="3.8" fill="#000093"/><circle cx="517.6" cy="455.7" r="3.8" fill="#000093"/><circle cx="524.1" cy="455.1" r="3.8" fill="#000093"/><circle cx="539.2" cy="454.7" r="3.8" fill="#000093"/><circle cx="541.2" cy="455.9" r="3.8" fill="#000093"/><circle cx="550.6" cy="455.4" r="3.8" fill="#000093"/><circle cx="463.5" cy="458.0" r="3.8" fill="#000093"/><circle cx="467.4" cy="457.8" r="3.8" fill="#000093"/><circle cx="472.2" cy="458.2" r="3.8" fill="#000093"/><circle cx="476.8" cy="458.0" r="3.8" fill="#000093"/><circle cx="480.4" cy="460.0" r="3.8" fill="#000093"/><circle cx="486.3" cy="459.5" r="3.8" fill="#000093"/><circle cx="491.1" cy="458.4" r="3.8" fill="#000093"/><circle cx="495.4" cy="457.6" r="3.8" fill="#000093"/><circle cx="498.8" cy="457.7" r="3.8" fill="#000093"/><circle cx="504.0" cy="456.7" r="3.8" fill="#000093"/><circle cx="506.7" cy="460.2" r="3.8" fill="#000093"/><circle cx="510.0" cy="458.7" r="3.8" fill="#000093"/><circle cx="515.6" cy="459.7" r="3.8" fill="#000093"/><circle cx="520.8" cy="460.3" r="3.8" fill="#000093"/><circle cx="525.5" cy="458.1" r="3.8" fill="#000093"/><circle cx="528.2" cy="458.1" r="3.8" fill="#000093"/><circle cx="531.9" cy="459.9" r="3.8" fill="#000093"/><circle cx="538.0" cy="460.0" r="3.8" fill="#000093"/><circle cx="540.1" cy="458.2" r="3.8" fill="#000093"/><circle cx="546.6" cy="458.8" r="3.8" fill="#000093"/><circle cx="549.4" cy="459.8" r="3.8" fill="#000093"/><circle cx="553.3" cy="459.1" r="3.8" fill="#000093"/><circle cx="560.4" cy="460.0" r="3.8" fill="#000093"/><circle cx="563.8" cy="459.9" r="3.8" fill="#000093"/><circle cx="460.8" cy="463.2" r="3.8" fill="#000093"/><circle cx="464.7" cy="464.0" r="3.8" fill="#000093"/><circle cx="467.6" cy="461.2" r="3.8" fill="#000093"/><circle cx="474.0" cy="462.2" r="3.8" fill="#000093"/><circle cx="478.5" cy="462.1" r="3.8" fill="#000093"/><circle cx="480.1" cy="461.9" r="3.8" fill="#000093"/><circle cx="486.0" cy="464.0" r="3.8" fill="#000093"/><circle cx="488.6" cy="461.7" r="3.8" fill="#000093"/><circle cx="493.8" cy="463.0" r="3.8" fill="#000093"/><circle cx="505.5" cy="463.8" r="3.8" fill="#000093"/><circle cx="511.3" cy="461.1" r="3.8" fill="#000093"/><circle cx="516.2" cy="462.4" r="3.8" fill="#000093"/><circle cx="531.5" cy="462.7" r="3.8" fill="#000093"/><circle cx="538.1" cy="463.6" r="3.8" fill="#000093"/><circle cx="540.5" cy="462.4" r="3.8" fill="#000093"/><circle cx="546.9" cy="462.8" r="3.8" fill="#000093"/><circle cx="551.1" cy="461.6" r="3.8" fill="#000093"/><circle cx="564.8" cy="463.6" r="3.8" fill="#000093"/><circle cx="465.7" cy="467.9" r="3.8" fill="#000093"/><circle cx="476.0" cy="466.5" r="3.8" fill="#000093"/><circle cx="507.5" cy="467.1" r="3.8" fill="#000093"/><circle cx="509.8" cy="468.6" r="3.8" fill="#000093"/><circle cx="517.7" cy="466.8" r="3.8" fill="#000093"/><circle cx="532.6" cy="465.2" r="3.8" fill="#000093"/><circle cx="537.3" cy="465.3" r="3.8" fill="#000093"/><circle cx="540.1" cy="466.4" r="3.8" fill="#000093"/><circle cx="545.9" cy="467.6" r="3.8" fill="#000093"/><circle cx="551.8" cy="466.6" r="3.8" fill="#000093"/><circle cx="563.7" cy="467.9" r="3.8" fill="#000093"/><circle cx="460.9" cy="469.7" r="3.8" fill="#000093"/><circle cx="465.0" cy="472.2" r="3.8" fill="#000093"/><circle cx="469.3" cy="471.3" r="3.8" fill="#000093"/><circle cx="473.3" cy="469.7" r="3.8" fill="#000093"/><circle cx="476.2" cy="471.0" r="3.8" fill="#000093"/><circle cx="482.0" cy="472.3" r="3.8" fill="#000093"/><circle cx="489.1" cy="473.0" r="3.8" fill="#000093"/><circle cx="496.0" cy="471.9" r="3.8" fill="#000093"/><circle cx="508.1" cy="470.2" r="3.8" fill="#000093"/><circle cx="511.6" cy="469.9" r="3.8" fill="#000093"/><circle cx="517.5" cy="469.5" r="3.8" fill="#000093"/><circle cx="521.4" cy="471.4" r="3.8" fill="#000093"/><circle cx="535.5" cy="472.3" r="3.8" fill="#000093"/><circle cx="542.9" cy="471.2" r="3.8" fill="#000093"/><circle cx="544.9" cy="471.1" r="3.8" fill="#000093"/><circle cx="550.5" cy="470.8" r="3.8" fill="#000093"/><circle cx="555.9" cy="472.7" r="3.8" fill="#000093"/><circle cx="461.0" cy="473.8" r="3.8" fill="#000093"/><circle cx="465.0" cy="476.1" r="3.8" fill="#000093"/><circle cx="468.2" cy="476.1" r="3.8" fill="#000093"/><circle cx="473.8" cy="476.8" r="3.8" fill="#000093"/><circle cx="478.0" cy="473.9" r="3.8" fill="#000093"/><circle cx="481.2" cy="477.1" r="3.8" fill="#000093"/><circle cx="485.6" cy="476.5" r="3.8" fill="#000093"/><circle cx="489.5" cy="475.0" r="3.8" fill="#000093"/><circle cx="496.2" cy="476.3" r="3.8" fill="#000093"/><circle cx="500.0" cy="477.6" r="3.8" fill="#000093"/><circle cx="502.0" cy="475.3" r="3.8" fill="#000093"/><circle cx="508.8" cy="477.3" r="3.8" fill="#000093"/><circle cx="517.0" cy="475.8" r="3.8" fill="#000093"/><circle cx="519.5" cy="476.2" r="3.8" fill="#000093"/><circle cx="526.3" cy="474.4" r="3.8" fill="#000093"/><circle cx="528.9" cy="477.3" r="3.8" fill="#000093"/><circle cx="533.8" cy="477.5" r="3.8" fill="#000093"/><circle cx="536.6" cy="477.2" r="3.8" fill="#000093"/><circle cx="542.5" cy="477.5" r="3.8" fill="#000093"/><circle cx="546.7" cy="476.4" r="3.8" fill="#000093"/><circle cx="549.3" cy="474.8" r="3.8" fill="#000093"/><circle cx="553.5" cy="474.8" r="3.8" fill="#000093"/><circle cx="559.2" cy="476.3" r="3.8" fill="#000093"/><circle cx="462.8" cy="480.0" r="3.8" fill="#000093"/><circle cx="467.7" cy="481.0" r="3.8" fill="#000093"/><circle cx="472.2" cy="479.6" r="3.8" fill="#000093"/><circle cx="478.1" cy="478.4" r="3.8" fill="#000093"/><circle cx="482.8" cy="478.2" r="3.8" fill="#000093"/><circle cx="487.1" cy="481.1" r="3.8" fill="#000093"/><circle cx="488.2" cy="478.8" r="3.8" fill="#000093"/><circle cx="495.0" cy="480.3" r="3.8" fill="#000093"/><circle cx="502.6" cy="480.6" r="3.8" fill="#000093"/><circle cx="505.6" cy="478.1" r="3.8" fill="#000093"/><circle cx="516.7" cy="478.6" r="3.8" fill="#000093"/><circle cx="519.7" cy="480.1" r="3.8" fill="#000093"/><circle cx="532.1" cy="478.8" r="3.8" fill="#000093"/><circle cx="536.9" cy="480.5" r="3.8" fill="#000093"/><circle cx="540.0" cy="480.6" r="3.8" fill="#000093"/><circle cx="544.2" cy="479.7" r="3.8" fill="#000093"/><circle cx="551.1" cy="478.4" r="3.8" fill="#000093"/><circle cx="553.4" cy="479.0" r="3.8" fill="#000093"/><circle cx="557.3" cy="479.5" r="3.8" fill="#000093"/><circle cx="563.4" cy="478.4" r="3.8" fill="#000093"/><circle cx="460.2" cy="485.7" r="3.8" fill="#000093"/><circle cx="462.8" cy="486.0" r="3.8" fill="#000093"/><circle cx="467.3" cy="485.7" r="3.8" fill="#000093"/><circle cx="472.0" cy="485.9" r="3.8" fill="#000093"/><circle cx="475.6" cy="484.1" r="3.8" fill="#000093"/><circle cx="482.1" cy="483.8" r="3.8" fill="#000093"/><circle cx="485.7" cy="483.1" r="3.8" fill="#000093"/><circle cx="490.2" cy="482.5" r="3.8" fill="#000093"/><circle cx="494.5" cy="483.3" r="3.8" fill="#000093"/><circle cx="499.3" cy="482.9" r="3.8" fill="#000093"/><circle cx="503.9" cy="485.6" r="3.8" fill="#000093"/><circle cx="506.1" cy="483.2" r="3.8" fill="#000093"/><circle cx="510.0" cy="483.2" r="3.8" fill="#000093"/><circle cx="514.5" cy="483.1" r="3.8" fill="#000093"/><circle cx="528.7" cy="484.3" r="3.8" fill="#000093"/><circle cx="535.0" cy="484.7" r="3.8" fill="#000093"/><circle cx="536.3" cy="486.2" r="3.8" fill="#000093"/><circle cx="543.5" cy="483.6" r="3.8" fill="#000093"/><circle cx="546.6" cy="482.5" r="3.8" fill="#000093"/><circle cx="551.5" cy="482.4" r="3.8" fill="#000093"/><circle cx="554.4" cy="484.5" r="3.8" fill="#000093"/><circle cx="557.9" cy="482.8" r="3.8" fill="#000093"/><circle cx="561.8" cy="484.4" r="3.8" fill="#000093"/><circle cx="463.0" cy="486.7" r="3.8" fill="#000093"/><circle cx="470.1" cy="486.7" r="3.8" fill="#000093"/><circle cx="476.8" cy="486.7" r="3.8" fill="#000093"/><circle cx="479.7" cy="486.7" r="3.8" fill="#000093"/><circle cx="487.2" cy="486.7" r="3.8" fill="#000093"/><circle cx="491.3" cy="486.7" r="3.8" fill="#000093"/><circle cx="493.4" cy="486.7" r="3.8" fill="#000093"/><circle cx="501.8" cy="486.7" r="3.8" fill="#000093"/><circle cx="506.1" cy="486.7" r="3.8" fill="#000093"/><circle cx="511.1" cy="486.7" r="3.8" fill="#000093"/><circle cx="516.8" cy="486.7" r="3.8" fill="#000093"/><circle cx="521.3" cy="486.7" r="3.8" fill="#000093"/><circle cx="525.3" cy="486.7" r="3.8" fill="#000093"/><circle cx="529.9" cy="486.7" r="3.8" fill="#000093"/><circle cx="532.0" cy="486.7" r="3.8" fill="#000093"/><circle cx="536.4" cy="486.7" r="3.8" fill="#000093"/><circle cx="542.7" cy="486.7" r="3.8" fill="#000093"/><circle cx="545.1" cy="486.7" r="3.8" fill="#000093"/><circle cx="550.0" cy="486.7" r="3.8" fill="#000093"/><circle cx="554.9" cy="486.7" r="3.8" fill="#000093"/><circle cx="557.7" cy="486.7" r="3.8" fill="#000093"/><circle cx="561.9" cy="486.7" r="3.8" fill="#000093"/><circle cx="57.3" cy="472.2" r="3.8" fill="#000093"/><circle cx="71.2" cy="471.9" r="3.8" fill="#000093"/><circle cx="89.1" cy="472.9" r="3.8" fill="#000093"/><circle cx="94.3" cy="472.8" r="3.8" fill="#000093"/><circle cx="112.5" cy="471.5" r="3.8" fill="#000093"/><circle cx="119.5" cy="471.9" r="3.8" fill="#000093"/><circle cx="125.7" cy="471.7" r="3.8" fill="#000093"/><circle cx="130.3" cy="472.1" r="3.8" fill="#000093"/><circle cx="42.1" cy="474.3" r="3.8" fill="#000093"/><circle cx="52.4" cy="475.8" r="3.8" fill="#000093"/><circle cx="63.4" cy="474.2" r="3.8" fill="#000093"/><circle cx="67.5" cy="475.7" r="3.8" fill="#000093"/><circle cx="70.4" cy="475.9" r="3.8" fill="#000093"/><circle cx="74.4" cy="476.3" r="3.8" fill="#000093"/><circle cx="88.7" cy="473.7" r="3.8" fill="#000093"/><circle cx="91.3" cy="476.9" r="3.8" fill="#000093"/><circle cx="95.8" cy="473.9" r="3.8" fill="#000093"/><circle cx="100.7" cy="476.1" r="3.8" fill="#000093"/><circle cx="104.0" cy="473.7" r="3.8" fill="#000093"/><circle cx="108.9" cy="475.9" r="3.8" fill="#000093"/><circle cx="114.0" cy="476.1" r="3.8" fill="#000093"/><circle cx="118.2" cy="476.9" r="3.8" fill="#000093"/><circle cx="121.2" cy="475.1" r="3.8" fill="#000093"/><circle cx="125.2" cy="477.1" r="3.8" fill="#000093"/><circle cx="131.2" cy="475.8" r="3.8" fill="#000093"/><circle cx="136.6" cy="476.3" r="3.8" fill="#000093"/><circle cx="43.9" cy="478.1" r="3.8" fill="#000093"/><circle cx="49.7" cy="480.9" r="3.8" fill="#000093"/><circle cx="54.9" cy="479.3" r="3.8" fill="#000093"/><circle cx="57.2" cy="481.4" r="3.8" fill="#000093"/><circle cx="63.4" cy="481.1" r="3.8" fill="#000093"/><circle cx="76.2" cy="480.5" r="3.8" fill="#000093"/><circle cx="85.2" cy="479.0" r="3.8" fill="#000093"/><circle cx="91.3" cy="480.9" r="3.8" fill="#000093"/><circle cx="97.8" cy="479.0" r="3.8" fill="#000093"/><circle cx="106.5" cy="480.0" r="3.8" fill="#000093"/><circle cx="109.1" cy="480.9" r="3.8" fill="#000093"/><circle cx="121.2" cy="478.6" r="3.8" fill="#000093"/><circle cx="127.5" cy="481.1" r="3.8" fill="#000093"/><circle cx="136.5" cy="480.6" r="3.8" fill="#000093"/><circle cx="140.5" cy="479.1" r="3.8" fill="#000093"/><circle cx="41.1" cy="483.3" r="3.8" fill="#000093"/><circle cx="46.6" cy="485.2" r="3.8" fill="#000093"/><circle cx="51.3" cy="484.8" r="3.8" fill="#000093"/><circle cx="52.2" cy="485.3" r="3.8" fill="#000093"/><circle cx="57.6" cy="485.0" r="3.8" fill="#000093"/><circle cx="61.4" cy="483.3" r="3.8" fill="#000093"/><circle cx="73.8" cy="482.3" r="3.8" fill="#000093"/><circle cx="79.6" cy="483.5" r="3.8" fill="#000093"/><circle cx="83.3" cy="484.4" r="3.8" fill="#000093"/><circle cx="97.2" cy="482.4" r="3.8" fill="#000093"/><circle cx="101.3" cy="483.8" r="3.8" fill="#000093"/><circle cx="106.1" cy="482.8" r="3.8" fill="#000093"/><circle cx="111.5" cy="484.6" r="3.8" fill="#000093"/><circle cx="112.3" cy="484.2" r="3.8" fill="#000093"/><circle cx="118.1" cy="482.4" r="3.8" fill="#000093"/><circle cx="123.8" cy="483.4" r="3.8" fill="#000093"/><circle cx="128.1" cy="482.8" r="3.8" fill="#000093"/><circle cx="131.0" cy="483.4" r="3.8" fill="#000093"/><circle cx="134.5" cy="483.1" r="3.8" fill="#000093"/><circle cx="138.7" cy="484.1" r="3.8" fill="#000093"/><circle cx="148.2" cy="466.2" r="3.8" fill="#000093"/><circle cx="152.2" cy="466.2" r="3.8" fill="#000093"/><circle cx="165.0" cy="467.7" r="3.8" fill="#000093"/><circle cx="172.6" cy="467.2" r="3.8" fill="#000093"/><circle cx="180.4" cy="466.1" r="3.8" fill="#000093"/><circle cx="190.1" cy="466.9" r="3.8" fill="#000093"/><circle cx="198.3" cy="467.5" r="3.8" fill="#000093"/><circle cx="203.0" cy="466.9" r="3.8" fill="#000093"/><circle cx="220.5" cy="466.7" r="3.8" fill="#000093"/><circle cx="224.2" cy="467.9" r="3.8" fill="#000093"/><circle cx="262.3" cy="467.7" r="3.8" fill="#000093"/><circle cx="276.1" cy="467.8" r="3.8" fill="#000093"/><circle cx="293.8" cy="466.9" r="3.8" fill="#000093"/><circle cx="305.6" cy="466.6" r="3.8" fill="#000093"/><circle cx="315.3" cy="467.1" r="3.8" fill="#000093"/><circle cx="317.7" cy="467.7" r="3.8" fill="#000093"/><circle cx="328.4" cy="467.1" r="3.8" fill="#000093"/><circle cx="335.0" cy="467.5" r="3.8" fill="#000093"/><circle cx="341.4" cy="466.5" r="3.8" fill="#000093"/><circle cx="343.7" cy="466.4" r="3.8" fill="#000093"/><circle cx="352.2" cy="467.6" r="3.8" fill="#000093"/><circle cx="356.4" cy="467.2" r="3.8" fill="#000093"/><circle cx="363.9" cy="467.2" r="3.8" fill="#000093"/><circle cx="375.1" cy="466.8" r="3.8" fill="#000093"/><circle cx="378.7" cy="467.6" r="3.8" fill="#000093"/><circle cx="397.1" cy="467.0" r="3.8" fill="#000093"/><circle cx="409.4" cy="466.5" r="3.8" fill="#000093"/><circle cx="411.7" cy="466.4" r="3.8" fill="#000093"/><circle cx="416.7" cy="467.8" r="3.8" fill="#000093"/><circle cx="427.6" cy="467.9" r="3.8" fill="#000093"/><circle cx="447.1" cy="467.1" r="3.8" fill="#000093"/><circle cx="453.0" cy="466.4" r="3.8" fill="#000093"/><circle cx="457.6" cy="467.4" r="3.8" fill="#000093"/><circle cx="464.1" cy="466.7" r="3.8" fill="#000093"/><circle cx="477.1" cy="466.6" r="3.8" fill="#000093"/><circle cx="487.7" cy="467.6" r="3.8" fill="#000093"/><circle cx="505.1" cy="466.7" r="3.8" fill="#000093"/><circle cx="506.6" cy="466.4" r="3.8" fill="#000093"/><circle cx="145.8" cy="471.9" r="3.8" fill="#000093"/><circle cx="150.3" cy="470.6" r="3.8" fill="#000093"/><circle cx="154.7" cy="471.7" r="3.8" fill="#000093"/><circle cx="191.8" cy="470.2" r="3.8" fill="#000093"/><circle cx="203.8" cy="469.1" r="3.8" fill="#000093"/><circle cx="205.1" cy="469.1" r="3.8" fill="#000093"/><circle cx="209.5" cy="471.9" r="3.8" fill="#000093"/><circle cx="229.0" cy="470.8" r="3.8" fill="#000093"/><circle cx="232.1" cy="468.8" r="3.8" fill="#000093"/><circle cx="237.3" cy="471.2" r="3.8" fill="#000093"/><circle cx="242.1" cy="472.1" r="3.8" fill="#000093"/><circle cx="245.9" cy="470.5" r="3.8" fill="#000093"/><circle cx="248.1" cy="470.2" r="3.8" fill="#000093"/><circle cx="253.3" cy="470.5" r="3.8" fill="#000093"/><circle cx="256.8" cy="471.8" r="3.8" fill="#000093"/><circle cx="264.2" cy="468.9" r="3.8" fill="#000093"/><circle cx="269.9" cy="468.9" r="3.8" fill="#000093"/><circle cx="275.5" cy="472.0" r="3.8" fill="#000093"/><circle cx="281.3" cy="470.8" r="3.8" fill="#000093"/><circle cx="284.5" cy="469.8" r="3.8" fill="#000093"/><circle cx="290.8" cy="468.4" r="3.8" fill="#000093"/><circle cx="296.8" cy="468.8" r="3.8" fill="#000093"/><circle cx="309.4" cy="472.1" r="3.8" fill="#000093"/><circle cx="312.1" cy="470.0" r="3.8" fill="#000093"/><circle cx="319.5" cy="468.4" r="3.8" fill="#000093"/><circle cx="323.9" cy="468.8" r="3.8" fill="#000093"/><circle cx="328.3" cy="470.4" r="3.8" fill="#000093"/><circle cx="330.8" cy="471.1" r="3.8" fill="#000093"/><circle cx="337.3" cy="468.8" r="3.8" fill="#000093"/><circle cx="338.5" cy="469.8" r="3.8" fill="#000093"/><circle cx="346.0" cy="472.2" r="3.8" fill="#000093"/><circle cx="347.1" cy="471.2" r="3.8" fill="#000093"/><circle cx="354.2" cy="469.4" r="3.8" fill="#000093"/><circle cx="355.7" cy="470.6" r="3.8" fill="#000093"/><circle cx="361.3" cy="470.6" r="3.8" fill="#000093"/><circle cx="373.2" cy="471.3" r="3.8" fill="#000093"/><circle cx="377.5" cy="468.8" r="3.8" fill="#000093"/><circle cx="382.2" cy="471.3" r="3.8" fill="#000093"/><circle cx="388.4" cy="470.1" r="3.8" fill="#000093"/><circle cx="391.8" cy="469.1" r="3.8" fill="#000093"/><circle cx="395.1" cy="468.7" r="3.8" fill="#000093"/><circle cx="399.3" cy="470.3" r="3.8" fill="#000093"/><circle cx="403.0" cy="469.6" r="3.8" fill="#000093"/><circle cx="421.5" cy="469.7" r="3.8" fill="#000093"/><circle cx="426.6" cy="470.3" r="3.8" fill="#000093"/><circle cx="429.8" cy="470.9" r="3.8" fill="#000093"/><circle cx="446.7" cy="469.4" r="3.8" fill="#000093"/><circle cx="451.2" cy="471.0" r="3.8" fill="#000093"/><circle cx="461.8" cy="468.8" r="3.8" fill="#000093"/><circle cx="463.3" cy="470.9" r="3.8" fill="#000093"/><circle cx="468.0" cy="471.9" r="3.8" fill="#000093"/><circle cx="471.7" cy="470.2" r="3.8" fill="#000093"/><circle cx="480.0" cy="471.1" r="3.8" fill="#000093"/><circle cx="490.6" cy="471.1" r="3.8" fill="#000093"/><circle cx="494.1" cy="471.1" r="3.8" fill="#000093"/><circle cx="501.6" cy="471.2" r="3.8" fill="#000093"/><circle cx="506.2" cy="471.7" r="3.8" fill="#000093"/><circle cx="519.7" cy="471.9" r="3.8" fill="#000093"/><circle cx="525.0" cy="472.1" r="3.8" fill="#000093"/><circle cx="533.4" cy="470.2" r="3.8" fill="#000093"/><circle cx="537.6" cy="470.6" r="3.8" fill="#000093"/><circle cx="541.9" cy="470.3" r="3.8" fill="#000093"/><circle cx="545.0" cy="470.4" r="3.8" fill="#000093"/><circle cx="551.3" cy="471.4" r="3.8" fill="#000093"/><circle cx="563.0" cy="471.1" r="3.8" fill="#000093"/><circle cx="145.6" cy="474.1" r="3.8" fill="#000093"/><circle cx="159.9" cy="475.1" r="3.8" fill="#000093"/><circle cx="166.0" cy="476.4" r="3.8" fill="#000093"/><circle cx="179.2" cy="475.7" r="3.8" fill="#000093"/><circle cx="199.3" cy="474.4" r="3.8" fill="#000093"/><circle cx="204.0" cy="473.4" r="3.8" fill="#000093"/><circle cx="208.1" cy="475.9" r="3.8" fill="#000093"/><circle cx="212.3" cy="474.3" r="3.8" fill="#000093"/><circle cx="227.1" cy="472.8" r="3.8" fill="#000093"/><circle cx="230.4" cy="474.1" r="3.8" fill="#000093"/><circle cx="241.6" cy="475.0" r="3.8" fill="#000093"/><circle cx="246.6" cy="476.2" r="3.8" fill="#000093"/><circle cx="249.8" cy="473.9" r="3.8" fill="#000093"/><circle cx="254.3" cy="475.0" r="3.8" fill="#000093"/><circle cx="257.0" cy="473.9" r="3.8" fill="#000093"/><circle cx="265.7" cy="476.0" r="3.8" fill="#000093"/><circle cx="270.5" cy="472.8" r="3.8" fill="#000093"/><circle cx="274.4" cy="475.6" r="3.8" fill="#000093"/><circle cx="277.9" cy="474.1" r="3.8" fill="#000093"/><circle cx="285.0" cy="475.9" r="3.8" fill="#000093"/><circle cx="289.3" cy="473.1" r="3.8" fill="#000093"/><circle cx="300.0" cy="472.7" r="3.8" fill="#000093"/><circle cx="304.9" cy="474.3" r="3.8" fill="#000093"/><circle cx="312.7" cy="474.6" r="3.8" fill="#000093"/><circle cx="319.7" cy="473.5" r="3.8" fill="#000093"/><circle cx="322.0" cy="475.0" r="3.8" fill="#000093"/><circle cx="325.3" cy="476.3" r="3.8" fill="#000093"/><circle cx="331.8" cy="474.7" r="3.8" fill="#000093"/><circle cx="336.8" cy="474.0" r="3.8" fill="#000093"/><circle cx="339.3" cy="474.2" r="3.8" fill="#000093"/><circle cx="344.7" cy="474.4" r="3.8" fill="#000093"/><circle cx="349.5" cy="474.4" r="3.8" fill="#000093"/><circle cx="353.6" cy="472.8" r="3.8" fill="#000093"/><circle cx="357.7" cy="475.3" r="3.8" fill="#000093"/><circle cx="360.2" cy="473.4" r="3.8" fill="#000093"/><circle cx="364.7" cy="475.1" r="3.8" fill="#000093"/><circle cx="368.7" cy="474.6" r="3.8" fill="#000093"/><circle cx="372.8" cy="474.5" r="3.8" fill="#000093"/><circle cx="377.8" cy="475.3" r="3.8" fill="#000093"/><circle cx="383.9" cy="474.9" r="3.8" fill="#000093"/><circle cx="388.4" cy="474.9" r="3.8" fill="#000093"/><circle cx="396.9" cy="475.2" r="3.8" fill="#000093"/><circle cx="405.2" cy="473.7" r="3.8" fill="#000093"/><circle cx="422.2" cy="474.7" r="3.8" fill="#000093"/><circle cx="427.3" cy="474.0" r="3.8" fill="#000093"/><circle cx="428.5" cy="473.0" r="3.8" fill="#000093"/><circle cx="433.1" cy="473.8" r="3.8" fill="#000093"/><circle cx="448.4" cy="473.8" r="3.8" fill="#000093"/><circle cx="452.5" cy="473.6" r="3.8" fill="#000093"/><circle cx="456.1" cy="475.0" r="3.8" fill="#000093"/><circle cx="461.0" cy="474.5" r="3.8" fill="#000093"/><circle cx="463.3" cy="476.3" r="3.8" fill="#000093"/><circle cx="470.1" cy="473.6" r="3.8" fill="#000093"/><circle cx="482.7" cy="475.5" r="3.8" fill="#000093"/><circle cx="484.9" cy="474.0" r="3.8" fill="#000093"/><circle cx="489.9" cy="474.7" r="3.8" fill="#000093"/><circle cx="494.5" cy="474.6" r="3.8" fill="#000093"/><circle cx="499.7" cy="474.0" r="3.8" fill="#000093"/><circle cx="502.3" cy="475.1" r="3.8" fill="#000093"/><circle cx="512.9" cy="473.7" r="3.8" fill="#000093"/><circle cx="516.5" cy="475.1" r="3.8" fill="#000093"/><circle cx="519.6" cy="476.0" r="3.8" fill="#000093"/><circle cx="525.9" cy="474.4" r="3.8" fill="#000093"/><circle cx="533.0" cy="474.6" r="3.8" fill="#000093"/><circle cx="539.0" cy="474.2" r="3.8" fill="#000093"/><circle cx="542.2" cy="473.4" r="3.8" fill="#000093"/><circle cx="552.1" cy="473.5" r="3.8" fill="#000093"/><circle cx="555.1" cy="474.7" r="3.8" fill="#000093"/><circle cx="558.4" cy="475.5" r="3.8" fill="#000093"/><circle cx="564.0" cy="474.1" r="3.8" fill="#000093"/><circle cx="147.2" cy="477.4" r="3.8" fill="#000093"/><circle cx="148.9" cy="477.9" r="3.8" fill="#000093"/><circle cx="163.4" cy="478.4" r="3.8" fill="#000093"/><circle cx="166.3" cy="477.8" r="3.8" fill="#000093"/><circle cx="170.6" cy="479.6" r="3.8" fill="#000093"/><circle cx="186.6" cy="478.5" r="3.8" fill="#000093"/><circle cx="191.0" cy="478.9" r="3.8" fill="#000093"/><circle cx="211.0" cy="478.8" r="3.8" fill="#000093"/><circle cx="215.3" cy="480.3" r="3.8" fill="#000093"/><circle cx="228.5" cy="480.2" r="3.8" fill="#000093"/><circle cx="231.5" cy="479.7" r="3.8" fill="#000093"/><circle cx="249.9" cy="478.3" r="3.8" fill="#000093"/><circle cx="253.0" cy="480.0" r="3.8" fill="#000093"/><circle cx="259.3" cy="477.4" r="3.8" fill="#000093"/><circle cx="264.1" cy="477.1" r="3.8" fill="#000093"/><circle cx="265.5" cy="478.5" r="3.8" fill="#000093"/><circle cx="269.6" cy="479.0" r="3.8" fill="#000093"/><circle cx="274.9" cy="478.7" r="3.8" fill="#000093"/><circle cx="278.9" cy="479.5" r="3.8" fill="#000093"/><circle cx="324.2" cy="478.2" r="3.8" fill="#000093"/><circle cx="325.2" cy="480.5" r="3.8" fill="#000093"/><circle cx="332.0" cy="477.1" r="3.8" fill="#000093"/><circle cx="335.4" cy="477.1" r="3.8" fill="#000093"/><circle cx="338.2" cy="477.3" r="3.8" fill="#000093"/><circle cx="342.7" cy="480.1" r="3.8" fill="#000093"/><circle cx="347.4" cy="480.2" r="3.8" fill="#000093"/><circle cx="351.2" cy="480.6" r="3.8" fill="#000093"/><circle cx="358.4" cy="477.4" r="3.8" fill="#000093"/><circle cx="361.6" cy="479.7" r="3.8" fill="#000093"/><circle cx="364.4" cy="478.7" r="3.8" fill="#000093"/><circle cx="369.1" cy="478.0" r="3.8" fill="#000093"/><circle cx="375.3" cy="478.9" r="3.8" fill="#000093"/><circle cx="378.5" cy="478.9" r="3.8" fill="#000093"/><circle cx="382.5" cy="480.4" r="3.8" fill="#000093"/><circle cx="388.6" cy="480.8" r="3.8" fill="#000093"/><circle cx="400.6" cy="480.1" r="3.8" fill="#000093"/><circle cx="405.7" cy="477.7" r="3.8" fill="#000093"/><circle cx="407.4" cy="478.8" r="3.8" fill="#000093"/><circle cx="422.2" cy="477.2" r="3.8" fill="#000093"/><circle cx="425.4" cy="478.6" r="3.8" fill="#000093"/><circle cx="431.0" cy="479.5" r="3.8" fill="#000093"/><circle cx="434.5" cy="477.7" r="3.8" fill="#000093"/><circle cx="452.4" cy="480.6" r="3.8" fill="#000093"/><circle cx="455.0" cy="480.0" r="3.8" fill="#000093"/><circle cx="459.7" cy="480.0" r="3.8" fill="#000093"/><circle cx="465.1" cy="477.6" r="3.8" fill="#000093"/><circle cx="467.7" cy="478.3" r="3.8" fill="#000093"/><circle cx="473.9" cy="477.8" r="3.8" fill="#000093"/><circle cx="478.7" cy="478.1" r="3.8" fill="#000093"/><circle cx="487.4" cy="478.4" r="3.8" fill="#000093"/><circle cx="489.3" cy="478.0" r="3.8" fill="#000093"/><circle cx="495.4" cy="479.2" r="3.8" fill="#000093"/><circle cx="498.1" cy="480.7" r="3.8" fill="#000093"/><circle cx="508.3" cy="480.1" r="3.8" fill="#000093"/><circle cx="516.3" cy="478.0" r="3.8" fill="#000093"/><circle cx="521.2" cy="479.2" r="3.8" fill="#000093"/><circle cx="530.2" cy="479.2" r="3.8" fill="#000093"/><circle cx="532.8" cy="477.4" r="3.8" fill="#000093"/><circle cx="539.2" cy="479.5" r="3.8" fill="#000093"/><circle cx="543.0" cy="478.7" r="3.8" fill="#000093"/><circle cx="545.5" cy="477.4" r="3.8" fill="#000093"/><circle cx="549.5" cy="479.6" r="3.8" fill="#000093"/><circle cx="553.4" cy="478.9" r="3.8" fill="#000093"/><circle cx="561.0" cy="478.7" r="3.8" fill="#000093"/><circle cx="562.2" cy="480.7" r="3.8" fill="#000093"/><circle cx="567.5" cy="477.1" r="3.8" fill="#000093"/><circle cx="143.7" cy="482.9" r="3.8" fill="#000093"/><circle cx="146.6" cy="482.2" r="3.8" fill="#000093"/><circle cx="150.2" cy="483.8" r="3.8" fill="#000093"/><circle cx="155.3" cy="485.1" r="3.8" fill="#000093"/><circle cx="157.3" cy="481.7" r="3.8" fill="#000093"/><circle cx="172.4" cy="483.5" r="3.8" fill="#000093"/><circle cx="175.5" cy="483.7" r="3.8" fill="#000093"/><circle cx="190.2" cy="484.3" r="3.8" fill="#000093"/><circle cx="203.6" cy="483.8" r="3.8" fill="#000093"/><circle cx="207.7" cy="484.7" r="3.8" fill="#000093"/><circle cx="210.3" cy="482.4" r="3.8" fill="#000093"/><circle cx="214.5" cy="483.4" r="3.8" fill="#000093"/><circle cx="232.8" cy="483.1" r="3.8" fill="#000093"/><circle cx="237.4" cy="484.9" r="3.8" fill="#000093"/><circle cx="257.1" cy="484.0" r="3.8" fill="#000093"/><circle cx="267.8" cy="484.9" r="3.8" fill="#000093"/><circle cx="270.6" cy="482.6" r="3.8" fill="#000093"/><circle cx="278.7" cy="483.2" r="3.8" fill="#000093"/><circle cx="285.2" cy="482.8" r="3.8" fill="#000093"/><circle cx="286.5" cy="482.6" r="3.8" fill="#000093"/><circle cx="291.8" cy="484.0" r="3.8" fill="#000093"/><circle cx="299.7" cy="484.4" r="3.8" fill="#000093"/><circle cx="311.1" cy="484.4" r="3.8" fill="#000093"/><circle cx="315.0" cy="483.7" r="3.8" fill="#000093"/><circle cx="317.6" cy="484.5" r="3.8" fill="#000093"/><circle cx="323.3" cy="483.9" r="3.8" fill="#000093"/><circle cx="326.0" cy="482.3" r="3.8" fill="#000093"/><circle cx="332.6" cy="484.7" r="3.8" fill="#000093"/><circle cx="336.2" cy="481.8" r="3.8" fill="#000093"/><circle cx="339.1" cy="481.7" r="3.8" fill="#000093"/><circle cx="344.0" cy="482.6" r="3.8" fill="#000093"/><circle cx="347.8" cy="482.6" r="3.8" fill="#000093"/><circle cx="353.7" cy="481.6" r="3.8" fill="#000093"/><circle cx="356.0" cy="483.8" r="3.8" fill="#000093"/><circle cx="361.1" cy="481.4" r="3.8" fill="#000093"/><circle cx="366.7" cy="484.0" r="3.8" fill="#000093"/><circle cx="370.7" cy="481.8" r="3.8" fill="#000093"/><circle cx="373.4" cy="482.6" r="3.8" fill="#000093"/><circle cx="377.7" cy="482.6" r="3.8" fill="#000093"/><circle cx="382.3" cy="482.6" r="3.8" fill="#000093"/><circle cx="387.4" cy="482.6" r="3.8" fill="#000093"/><circle cx="389.9" cy="483.2" r="3.8" fill="#000093"/><circle cx="395.4" cy="485.1" r="3.8" fill="#000093"/><circle cx="401.3" cy="484.7" r="3.8" fill="#000093"/><circle cx="404.8" cy="484.1" r="3.8" fill="#000093"/><circle cx="417.1" cy="482.6" r="3.8" fill="#000093"/><circle cx="421.4" cy="485.0" r="3.8" fill="#000093"/><circle cx="426.3" cy="484.6" r="3.8" fill="#000093"/><circle cx="428.3" cy="484.5" r="3.8" fill="#000093"/><circle cx="435.6" cy="482.1" r="3.8" fill="#000093"/><circle cx="445.7" cy="485.0" r="3.8" fill="#000093"/><circle cx="451.3" cy="483.5" r="3.8" fill="#000093"/><circle cx="456.4" cy="482.7" r="3.8" fill="#000093"/><circle cx="460.3" cy="483.5" r="3.8" fill="#000093"/><circle cx="464.2" cy="482.6" r="3.8" fill="#000093"/><circle cx="470.5" cy="483.5" r="3.8" fill="#000093"/><circle cx="472.2" cy="482.5" r="3.8" fill="#000093"/><circle cx="480.4" cy="482.6" r="3.8" fill="#000093"/><circle cx="485.0" cy="484.3" r="3.8" fill="#000093"/><circle cx="490.4" cy="481.5" r="3.8" fill="#000093"/><circle cx="495.3" cy="482.7" r="3.8" fill="#000093"/><circle cx="498.1" cy="481.6" r="3.8" fill="#000093"/><circle cx="508.4" cy="483.7" r="3.8" fill="#000093"/><circle cx="510.8" cy="482.0" r="3.8" fill="#000093"/><circle cx="515.9" cy="484.0" r="3.8" fill="#000093"/><circle cx="520.8" cy="483.8" r="3.8" fill="#000093"/><circle cx="523.5" cy="485.0" r="3.8" fill="#000093"/><circle cx="529.5" cy="481.7" r="3.8" fill="#000093"/><circle cx="534.6" cy="481.3" r="3.8" fill="#000093"/><circle cx="538.7" cy="484.0" r="3.8" fill="#000093"/><circle cx="542.7" cy="482.4" r="3.8" fill="#000093"/><circle cx="547.2" cy="483.5" r="3.8" fill="#000093"/><circle cx="550.0" cy="485.0" r="3.8" fill="#000093"/><circle cx="553.0" cy="483.4" r="3.8" fill="#000093"/><circle cx="558.4" cy="482.1" r="3.8" fill="#000093"/><circle cx="564.4" cy="483.2" r="3.8" fill="#000093"/><circle cx="566.6" cy="483.1" r="3.8" fill="#000093"/><circle cx="146.8" cy="486.7" r="3.8" fill="#000093"/><circle cx="149.5" cy="486.7" r="3.8" fill="#000093"/><circle cx="153.8" cy="486.7" r="3.8" fill="#000093"/><circle cx="163.8" cy="486.3" r="3.8" fill="#000093"/><circle cx="176.5" cy="486.6" r="3.8" fill="#000093"/><circle cx="185.7" cy="486.7" r="3.8" fill="#000093"/><circle cx="191.0" cy="485.6" r="3.8" fill="#000093"/><circle cx="199.2" cy="486.7" r="3.8" fill="#000093"/><circle cx="201.3" cy="486.4" r="3.8" fill="#000093"/><circle cx="205.1" cy="486.3" r="3.8" fill="#000093"/><circle cx="210.6" cy="486.7" r="3.8" fill="#000093"/><circle cx="216.0" cy="486.7" r="3.8" fill="#000093"/><circle cx="219.6" cy="486.7" r="3.8" fill="#000093"/><circle cx="225.2" cy="486.7" r="3.8" fill="#000093"/><circle cx="229.5" cy="485.7" r="3.8" fill="#000093"/><circle cx="236.0" cy="486.7" r="3.8" fill="#000093"/><circle cx="247.8" cy="486.6" r="3.8" fill="#000093"/><circle cx="259.2" cy="486.0" r="3.8" fill="#000093"/><circle cx="261.0" cy="486.4" r="3.8" fill="#000093"/><circle cx="268.3" cy="486.7" r="3.8" fill="#000093"/><circle cx="276.8" cy="486.4" r="3.8" fill="#000093"/><circle cx="297.6" cy="486.7" r="3.8" fill="#000093"/><circle cx="302.1" cy="485.8" r="3.8" fill="#000093"/><circle cx="306.6" cy="486.7" r="3.8" fill="#000093"/><circle cx="309.9" cy="485.7" r="3.8" fill="#000093"/><circle cx="332.1" cy="486.7" r="3.8" fill="#000093"/><circle cx="335.3" cy="486.7" r="3.8" fill="#000093"/><circle cx="343.2" cy="482.6" r="3.8" fill="#000093"/><circle cx="349.3" cy="482.6" r="3.8" fill="#000093"/><circle cx="353.3" cy="482.6" r="3.8" fill="#000093"/><circle cx="374.2" cy="482.6" r="3.8" fill="#000093"/><circle cx="379.6" cy="482.6" r="3.8" fill="#000093"/><circle cx="381.9" cy="482.6" r="3.8" fill="#000093"/><circle cx="394.6" cy="485.7" r="3.8" fill="#000093"/><circle cx="398.6" cy="486.7" r="3.8" fill="#000093"/><circle cx="413.9" cy="482.6" r="3.8" fill="#000093"/><circle cx="417.4" cy="482.6" r="3.8" fill="#000093"/><circle cx="428.6" cy="486.4" r="3.8" fill="#000093"/><circle cx="451.9" cy="486.7" r="3.8" fill="#000093"/><circle cx="454.5" cy="486.7" r="3.8" fill="#000093"/><circle cx="460.4" cy="486.7" r="3.8" fill="#000093"/><circle cx="467.2" cy="485.7" r="3.8" fill="#000093"/><circle cx="472.9" cy="486.7" r="3.8" fill="#000093"/><circle cx="483.4" cy="486.7" r="3.8" fill="#000093"/><circle cx="491.6" cy="486.5" r="3.8" fill="#000093"/><circle cx="495.7" cy="486.7" r="3.8" fill="#000093"/><circle cx="504.6" cy="486.0" r="3.8" fill="#000093"/><circle cx="508.3" cy="486.7" r="3.8" fill="#000093"/><circle cx="512.7" cy="485.9" r="3.8" fill="#000093"/><circle cx="522.0" cy="486.7" r="3.8" fill="#000093"/><circle cx="524.4" cy="486.5" r="3.8" fill="#000093"/><circle cx="527.6" cy="486.5" r="3.8" fill="#000093"/><circle cx="532.6" cy="486.7" r="3.8" fill="#000093"/><circle cx="538.4" cy="486.7" r="3.8" fill="#000093"/><circle cx="541.2" cy="486.7" r="3.8" fill="#000093"/><circle cx="549.9" cy="485.7" r="3.8" fill="#000093"/><circle cx="553.6" cy="486.7" r="3.8" fill="#000093"/><circle cx="559.2" cy="486.6" r="3.8" fill="#000093"/><circle cx="564.5" cy="486.2" r="3.8" fill="#000093"/><circle cx="150.2" cy="458.0" r="3.8" fill="#000093"/><circle cx="175.0" cy="458.5" r="3.8" fill="#000093"/><circle cx="232.4" cy="458.2" r="3.8" fill="#000093"/><circle cx="335.9" cy="458.1" r="3.8" fill="#000093"/><circle cx="341.1" cy="457.7" r="3.8" fill="#000093"/><circle cx="347.1" cy="457.6" r="3.8" fill="#000093"/><circle cx="361.5" cy="457.2" r="3.8" fill="#000093"/><circle cx="375.8" cy="458.0" r="3.8" fill="#000093"/><circle cx="391.0" cy="457.1" r="3.8" fill="#000093"/><circle cx="405.3" cy="457.7" r="3.8" fill="#000093"/><circle cx="407.3" cy="458.3" r="3.8" fill="#000093"/><circle cx="420.9" cy="457.7" r="3.8" fill="#000093"/><circle cx="426.8" cy="457.2" r="3.8" fill="#000093"/><circle cx="437.5" cy="458.8" r="3.8" fill="#000093"/><circle cx="443.1" cy="457.2" r="3.8" fill="#000093"/><circle cx="467.8" cy="458.1" r="3.8" fill="#000093"/><circle cx="504.6" cy="457.7" r="3.8" fill="#000093"/><circle cx="516.1" cy="458.3" r="3.8" fill="#000093"/><circle cx="521.2" cy="458.2" r="3.8" fill="#000093"/><circle cx="549.8" cy="457.4" r="3.8" fill="#000093"/><circle cx="145.4" cy="459.6" r="3.8" fill="#000093"/><circle cx="151.3" cy="461.5" r="3.8" fill="#000093"/><circle cx="160.0" cy="461.2" r="3.8" fill="#000093"/><circle cx="173.4" cy="462.5" r="3.8" fill="#000093"/><circle cx="179.2" cy="459.4" r="3.8" fill="#000093"/><circle cx="188.7" cy="462.9" r="3.8" fill="#000093"/><circle cx="192.4" cy="463.1" r="3.8" fill="#000093"/><circle cx="204.0" cy="463.0" r="3.8" fill="#000093"/><circle cx="214.2" cy="461.5" r="3.8" fill="#000093"/><circle cx="222.8" cy="462.5" r="3.8" fill="#000093"/><circle cx="229.7" cy="460.4" r="3.8" fill="#000093"/><circle cx="235.1" cy="462.9" r="3.8" fill="#000093"/><circle cx="240.3" cy="459.9" r="3.8" fill="#000093"/><circle cx="269.9" cy="462.7" r="3.8" fill="#000093"/><circle cx="279.4" cy="460.1" r="3.8" fill="#000093"/><circle cx="283.6" cy="459.4" r="3.8" fill="#000093"/><circle cx="300.8" cy="460.3" r="3.8" fill="#000093"/><circle cx="308.2" cy="460.2" r="3.8" fill="#000093"/><circle cx="313.3" cy="460.6" r="3.8" fill="#000093"/><circle cx="317.9" cy="462.1" r="3.8" fill="#000093"/><circle cx="326.7" cy="462.9" r="3.8" fill="#000093"/><circle cx="331.8" cy="460.8" r="3.8" fill="#000093"/><circle cx="336.5" cy="461.2" r="3.8" fill="#000093"/><circle cx="340.2" cy="461.0" r="3.8" fill="#000093"/><circle cx="348.6" cy="460.6" r="3.8" fill="#000093"/><circle cx="380.1" cy="461.9" r="3.8" fill="#000093"/><circle cx="381.0" cy="461.0" r="3.8" fill="#000093"/><circle cx="391.1" cy="463.0" r="3.8" fill="#000093"/><circle cx="398.1" cy="460.3" r="3.8" fill="#000093"/><circle cx="404.3" cy="459.5" r="3.8" fill="#000093"/><circle cx="412.5" cy="461.4" r="3.8" fill="#000093"/><circle cx="436.9" cy="460.7" r="3.8" fill="#000093"/><circle cx="445.4" cy="461.0" r="3.8" fill="#000093"/><circle cx="454.5" cy="459.5" r="3.8" fill="#000093"/><circle cx="461.5" cy="461.4" r="3.8" fill="#000093"/><circle cx="463.1" cy="460.6" r="3.8" fill="#000093"/><circle cx="480.1" cy="462.3" r="3.8" fill="#000093"/><circle cx="485.4" cy="463.2" r="3.8" fill="#000093"/><circle cx="488.9" cy="463.2" r="3.8" fill="#000093"/><circle cx="494.7" cy="462.3" r="3.8" fill="#000093"/><circle cx="508.8" cy="462.2" r="3.8" fill="#000093"/><circle cx="512.1" cy="459.7" r="3.8" fill="#000093"/><circle cx="521.3" cy="461.7" r="3.8" fill="#000093"/><circle cx="525.9" cy="461.8" r="3.8" fill="#000093"/><circle cx="528.6" cy="460.4" r="3.8" fill="#000093"/><circle cx="533.8" cy="462.9" r="3.8" fill="#000093"/><circle cx="537.6" cy="459.6" r="3.8" fill="#000093"/><circle cx="541.8" cy="462.9" r="3.8" fill="#000093"/><circle cx="552.3" cy="462.4" r="3.8" fill="#000093"/><circle cx="559.1" cy="459.4" r="3.8" fill="#000093"/><circle cx="562.3" cy="459.4" r="3.8" fill="#000093"/><circle cx="567.0" cy="461.0" r="3.8" fill="#000093"/><circle cx="147.2" cy="465.6" r="3.8" fill="#000093"/><circle cx="152.1" cy="465.4" r="3.8" fill="#000093"/><circle cx="175.9" cy="464.0" r="3.8" fill="#000093"/><circle cx="188.1" cy="465.0" r="3.8" fill="#000093"/><circle cx="205.5" cy="465.2" r="3.8" fill="#000093"/><circle cx="209.6" cy="464.2" r="3.8" fill="#000093"/><circle cx="220.4" cy="464.5" r="3.8" fill="#000093"/><circle cx="222.7" cy="464.3" r="3.8" fill="#000093"/><circle cx="230.7" cy="464.5" r="3.8" fill="#000093"/><circle cx="234.8" cy="464.1" r="3.8" fill="#000093"/><circle cx="313.8" cy="465.1" r="3.8" fill="#000093"/><circle cx="318.4" cy="464.9" r="3.8" fill="#000093"/><circle cx="321.0" cy="464.4" r="3.8" fill="#000093"/><circle cx="326.9" cy="465.7" r="3.8" fill="#000093"/><circle cx="334.7" cy="465.0" r="3.8" fill="#000093"/><circle cx="342.2" cy="464.2" r="3.8" fill="#000093"/><circle cx="365.7" cy="465.9" r="3.8" fill="#000093"/><circle cx="417.1" cy="464.7" r="3.8" fill="#000093"/><circle cx="428.8" cy="465.5" r="3.8" fill="#000093"/><circle cx="450.3" cy="464.6" r="3.8" fill="#000093"/><circle cx="456.2" cy="465.4" r="3.8" fill="#000093"/><circle cx="461.0" cy="465.7" r="3.8" fill="#000093"/><circle cx="491.8" cy="465.4" r="3.8" fill="#000093"/><circle cx="519.4" cy="463.9" r="3.8" fill="#000093"/><circle cx="537.7" cy="464.1" r="3.8" fill="#000093"/><circle cx="63.4" cy="402.0" r="3.8" fill="#000093"/><circle cx="75.8" cy="408.1" r="3.8" fill="#000093"/><circle cx="78.0" cy="407.1" r="3.8" fill="#000093"/><circle cx="61.4" cy="412.7" r="3.8" fill="#000093"/><circle cx="75.8" cy="422.9" r="3.8" fill="#000093"/><circle cx="84.8" cy="426.8" r="3.8" fill="#000093"/><circle cx="94.4" cy="425.7" r="3.8" fill="#000093"/><circle cx="141.0" cy="416.9" r="3.8" fill="#000093"/><circle cx="42.8" cy="434.7" r="3.8" fill="#000093"/><circle cx="53.8" cy="429.6" r="3.8" fill="#000093"/><circle cx="57.2" cy="427.9" r="3.8" fill="#000093"/><circle cx="60.6" cy="427.1" r="3.8" fill="#000093"/><circle cx="63.9" cy="427.1" r="3.8" fill="#000093"/><circle cx="66.5" cy="428.8" r="3.8" fill="#000093"/><circle cx="55.5" cy="433.0" r="3.8" fill="#000093"/><circle cx="58.9" cy="432.2" r="3.8" fill="#000093"/><circle cx="63.1" cy="432.2" r="3.8" fill="#000093"/><circle cx="67.3" cy="434.7" r="3.8" fill="#000093"/><circle cx="58.0" cy="438.9" r="3.8" fill="#000093"/><circle cx="54.3" cy="444.9" r="3.8" fill="#000093"/><circle cx="58.0" cy="449.9" r="3.8" fill="#000093"/><circle cx="75.3" cy="436.4" r="3.8" fill="#000093"/><circle cx="72.4" cy="439.8" r="3.8" fill="#000093"/><circle cx="76.6" cy="441.5" r="3.8" fill="#000093"/><circle cx="80.9" cy="439.8" r="3.8" fill="#000093"/><circle cx="84.3" cy="441.5" r="3.8" fill="#000093"/><circle cx="86.8" cy="444.9" r="3.8" fill="#000093"/><circle cx="69.0" cy="444.0" r="3.8" fill="#000093"/><circle cx="72.4" cy="445.7" r="3.8" fill="#000093"/><circle cx="76.6" cy="446.6" r="3.8" fill="#000093"/><circle cx="81.7" cy="445.7" r="3.8" fill="#000093"/><circle cx="85.1" cy="448.3" r="3.8" fill="#000093"/><circle cx="70.7" cy="450.8" r="3.8" fill="#000093"/><circle cx="67.3" cy="453.3" r="3.8" fill="#000093"/><circle cx="66.5" cy="458.4" r="3.8" fill="#000093"/><circle cx="94.4" cy="445.4" r="3.8" fill="#000093"/><circle cx="88.5" cy="455.0" r="3.8" fill="#000093"/><circle cx="92.7" cy="453.3" r="3.8" fill="#000093"/><circle cx="96.1" cy="455.0" r="3.8" fill="#000093"/><circle cx="91.0" cy="458.4" r="3.8" fill="#000093"/><circle cx="104.6" cy="437.3" r="3.8" fill="#000093"/><circle cx="108.8" cy="437.3" r="3.8" fill="#000093"/><circle cx="115.6" cy="437.3" r="3.8" fill="#000093"/><circle cx="120.7" cy="437.3" r="3.8" fill="#000093"/><circle cx="124.0" cy="437.3" r="3.8" fill="#000093"/><circle cx="128.3" cy="437.3" r="3.8" fill="#000093"/><circle cx="131.7" cy="437.3" r="3.8" fill="#000093"/><circle cx="135.1" cy="437.3" r="3.8" fill="#000093"/><circle cx="138.4" cy="437.3" r="3.8" fill="#000093"/><circle cx="141.8" cy="437.3" r="3.8" fill="#000093"/><circle cx="137.6" cy="443.2" r="3.8" fill="#000093"/><circle cx="121.5" cy="448.3" r="3.8" fill="#000093"/><circle cx="129.1" cy="453.8" r="3.8" fill="#000093"/><circle cx="139.3" cy="458.4" r="3.8" fill="#000093"/><circle cx="130.0" cy="463.0" r="3.8" fill="#000093"/><circle cx="135.1" cy="463.5" r="3.8" fill="#000093"/><circle cx="44.5" cy="457.6" r="3.8" fill="#000093"/><circle cx="43.6" cy="463.5" r="3.8" fill="#000093"/><circle cx="47.0" cy="465.2" r="3.8" fill="#000093"/><circle cx="40.2" cy="469.4" r="3.8" fill="#000093"/><circle cx="54.6" cy="467.7" r="3.8" fill="#000093"/><circle cx="73.3" cy="464.3" r="3.8" fill="#000093"/><circle cx="81.7" cy="463.5" r="3.8" fill="#000093"/><circle cx="91.9" cy="463.5" r="3.8" fill="#000093"/><circle cx="102.0" cy="461.0" r="3.8" fill="#000093"/><circle cx="99.5" cy="466.0" r="3.8" fill="#000093"/><circle cx="105.4" cy="464.3" r="3.8" fill="#000093"/><circle cx="112.2" cy="464.3" r="3.8" fill="#000093"/><circle cx="62.2" cy="469.4" r="3.8" fill="#000093"/><circle cx="66.5" cy="469.4" r="3.8" fill="#000093"/><circle cx="69.9" cy="471.1" r="3.8" fill="#000093"/><circle cx="74.9" cy="469.4" r="3.8" fill="#000093"/><circle cx="80.0" cy="467.7" r="3.8" fill="#000093"/><circle cx="85.1" cy="469.4" r="3.8" fill="#000093"/><circle cx="88.5" cy="465.2" r="3.8" fill="#000093"/><circle cx="108.8" cy="472.8" r="3.8" fill="#000093"/><circle cx="113.9" cy="470.3" r="3.8" fill="#000093"/><circle cx="119.0" cy="469.4" r="3.8" fill="#000093"/><circle cx="124.0" cy="472.8" r="3.8" fill="#000093"/><circle cx="128.3" cy="474.5" r="3.8" fill="#000093"/><circle cx="133.4" cy="474.5" r="3.8" fill="#000093"/><circle cx="138.4" cy="469.4" r="3.8" fill="#000093"/><circle cx="141.0" cy="472.8" r="3.8" fill="#000093"/><circle cx="142.8" cy="416.9" r="3.8" fill="#000093"/><circle cx="145.4" cy="416.9" r="3.8" fill="#000093"/><circle cx="182.6" cy="415.2" r="3.8" fill="#000093"/><circle cx="182.6" cy="424.6" r="3.8" fill="#000093"/><circle cx="180.6" cy="427.9" r="3.8" fill="#000093"/><circle cx="238.5" cy="400.8" r="3.8" fill="#000093"/><circle cx="203.8" cy="432.2" r="3.8" fill="#000093"/><circle cx="216.5" cy="432.2" r="3.8" fill="#000093"/><circle cx="227.5" cy="430.5" r="3.8" fill="#000093"/><circle cx="230.9" cy="421.2" r="3.8" fill="#000093"/><circle cx="236.0" cy="422.0" r="3.8" fill="#000093"/><circle cx="240.2" cy="423.7" r="3.8" fill="#000093"/><circle cx="246.1" cy="416.1" r="3.8" fill="#000093"/><circle cx="243.6" cy="427.1" r="3.8" fill="#000093"/><circle cx="247.0" cy="430.5" r="3.8" fill="#000093"/><circle cx="245.3" cy="436.4" r="3.8" fill="#000093"/><circle cx="142.0" cy="437.3" r="3.8" fill="#000093"/><circle cx="145.0" cy="437.3" r="3.8" fill="#000093"/><circle cx="148.1" cy="437.3" r="3.8" fill="#000093"/><circle cx="151.1" cy="437.3" r="3.8" fill="#000093"/><circle cx="154.2" cy="437.3" r="3.8" fill="#000093"/><circle cx="157.2" cy="437.3" r="3.8" fill="#000093"/><circle cx="160.3" cy="437.3" r="3.8" fill="#000093"/><circle cx="163.3" cy="437.3" r="3.8" fill="#000093"/><circle cx="166.4" cy="437.3" r="3.8" fill="#000093"/><circle cx="169.4" cy="437.3" r="3.8" fill="#000093"/><circle cx="172.5" cy="437.3" r="3.8" fill="#000093"/><circle cx="175.5" cy="437.3" r="3.8" fill="#000093"/><circle cx="178.6" cy="437.3" r="3.8" fill="#000093"/><circle cx="181.6" cy="437.3" r="3.8" fill="#000093"/><circle cx="184.7" cy="437.3" r="3.8" fill="#000093"/><circle cx="187.7" cy="437.3" r="3.8" fill="#000093"/><circle cx="190.8" cy="437.3" r="3.8" fill="#000093"/><circle cx="193.8" cy="437.3" r="3.8" fill="#000093"/><circle cx="196.9" cy="437.3" r="3.8" fill="#000093"/><circle cx="199.9" cy="437.3" r="3.8" fill="#000093"/><circle cx="203.0" cy="437.3" r="3.8" fill="#000093"/><circle cx="206.0" cy="437.3" r="3.8" fill="#000093"/><circle cx="209.1" cy="437.3" r="3.8" fill="#000093"/><circle cx="212.1" cy="437.3" r="3.8" fill="#000093"/><circle cx="215.1" cy="437.3" r="3.8" fill="#000093"/><circle cx="218.2" cy="437.3" r="3.8" fill="#000093"/><circle cx="221.2" cy="437.3" r="3.8" fill="#000093"/><circle cx="224.3" cy="437.3" r="3.8" fill="#000093"/><circle cx="227.3" cy="437.3" r="3.8" fill="#000093"/><circle cx="230.4" cy="437.3" r="3.8" fill="#000093"/><circle cx="233.4" cy="437.3" r="3.8" fill="#000093"/><circle cx="254.8" cy="403.4" r="3.8" fill="#000093"/><circle cx="284.4" cy="402.5" r="3.8" fill="#000093"/><circle cx="287.8" cy="407.6" r="3.8" fill="#000093"/><circle cx="296.3" cy="408.5" r="3.8" fill="#000093"/><circle cx="333.5" cy="403.4" r="3.8" fill="#000093"/><circle cx="351.3" cy="412.7" r="3.8" fill="#000093"/><circle cx="274.2" cy="416.9" r="3.8" fill="#000093"/><circle cx="304.7" cy="415.2" r="3.8" fill="#000093"/><circle cx="312.3" cy="415.2" r="3.8" fill="#000093"/><circle cx="331.0" cy="415.2" r="3.8" fill="#000093"/><circle cx="339.4" cy="416.9" r="3.8" fill="#000093"/><circle cx="293.7" cy="421.2" r="3.8" fill="#000093"/><circle cx="298.8" cy="421.2" r="3.8" fill="#000093"/><circle cx="303.0" cy="422.0" r="3.8" fill="#000093"/><circle cx="312.3" cy="421.2" r="3.8" fill="#000093"/><circle cx="319.1" cy="421.2" r="3.8" fill="#000093"/><circle cx="325.9" cy="421.2" r="3.8" fill="#000093"/><circle cx="259.9" cy="429.6" r="3.8" fill="#000093"/><circle cx="250.5" cy="431.3" r="3.8" fill="#000093"/><circle cx="248.8" cy="416.1" r="3.8" fill="#000093"/><circle cx="248.8" cy="441.5" r="3.8" fill="#000093"/><circle cx="266.6" cy="433.9" r="3.8" fill="#000093"/><circle cx="288.6" cy="438.1" r="3.8" fill="#000093"/><circle cx="292.0" cy="438.1" r="3.8" fill="#000093"/><circle cx="316.6" cy="438.1" r="3.8" fill="#000093"/><circle cx="321.7" cy="444.0" r="3.8" fill="#000093"/><circle cx="334.4" cy="446.6" r="3.8" fill="#000093"/><circle cx="332.7" cy="451.6" r="3.8" fill="#000093"/><circle cx="342.8" cy="441.5" r="3.8" fill="#000093"/><circle cx="347.9" cy="439.8" r="3.8" fill="#000093"/><circle cx="269.2" cy="444.0" r="3.8" fill="#000093"/><circle cx="288.6" cy="444.9" r="3.8" fill="#000093"/><circle cx="297.1" cy="450.8" r="3.8" fill="#000093"/><circle cx="279.3" cy="441.5" r="3.8" fill="#000093"/><circle cx="277.6" cy="436.4" r="3.8" fill="#000093"/><circle cx="379.1" cy="407.6" r="3.8" fill="#000093"/><circle cx="356.5" cy="414.4" r="3.8" fill="#000093"/><circle cx="356.5" cy="422.0" r="3.8" fill="#000093"/><circle cx="355.7" cy="427.1" r="3.8" fill="#000093"/><circle cx="428.5" cy="405.9" r="3.8" fill="#000093"/><circle cx="432.7" cy="407.6" r="3.8" fill="#000093"/><circle cx="437.8" cy="403.4" r="3.8" fill="#000093"/><circle cx="442.0" cy="406.8" r="3.8" fill="#000093"/><circle cx="446.3" cy="410.2" r="3.8" fill="#000093"/><circle cx="437.0" cy="416.1" r="3.8" fill="#000093"/><circle cx="428.5" cy="418.6" r="3.8" fill="#000093"/><circle cx="426.8" cy="425.4" r="3.8" fill="#000093"/><circle cx="453.1" cy="425.4" r="3.8" fill="#000093"/><circle cx="446.3" cy="426.2" r="3.8" fill="#000093"/><circle cx="457.3" cy="403.4" r="3.8" fill="#000093"/><circle cx="458.1" cy="430.5" r="3.8" fill="#000093"/><circle cx="394.6" cy="437.3" r="3.8" fill="#000093"/><circle cx="399.7" cy="440.6" r="3.8" fill="#000093"/><circle cx="369.2" cy="440.6" r="3.8" fill="#000093"/><circle cx="380.2" cy="444.9" r="3.8" fill="#000093"/><circle cx="431.9" cy="438.1" r="3.8" fill="#000093"/><circle cx="440.4" cy="437.3" r="3.8" fill="#000093"/><circle cx="446.3" cy="433.9" r="3.8" fill="#000093"/><circle cx="453.9" cy="436.4" r="3.8" fill="#000093"/><circle cx="404.8" cy="439.8" r="3.8" fill="#000093"/><circle cx="409.9" cy="444.9" r="3.8" fill="#000093"/><circle cx="415.0" cy="445.7" r="3.8" fill="#000093"/><circle cx="425.1" cy="444.0" r="3.8" fill="#000093"/><circle cx="428.5" cy="440.6" r="3.8" fill="#000093"/><circle cx="438.7" cy="444.0" r="3.8" fill="#000093"/><circle cx="445.4" cy="440.6" r="3.8" fill="#000093"/><circle cx="455.6" cy="442.3" r="3.8" fill="#000093"/><circle cx="364.2" cy="444.0" r="3.8" fill="#000093"/><circle cx="374.3" cy="449.1" r="3.8" fill="#000093"/><circle cx="387.9" cy="450.8" r="3.8" fill="#000093"/><circle cx="476.9" cy="400.8" r="3.8" fill="#000093"/><circle cx="482.0" cy="400.8" r="3.8" fill="#000093"/><circle cx="508.3" cy="401.7" r="3.8" fill="#000093"/><circle cx="526.0" cy="400.0" r="3.8" fill="#000093"/><circle cx="514.2" cy="411.9" r="3.8" fill="#000093"/><circle cx="514.2" cy="416.1" r="3.8" fill="#000093"/><circle cx="522.6" cy="418.6" r="3.8" fill="#000093"/><circle cx="553.1" cy="411.0" r="3.8" fill="#000093"/><circle cx="542.1" cy="418.6" r="3.8" fill="#000093"/><circle cx="542.1" cy="427.1" r="3.8" fill="#000093"/><circle cx="541.3" cy="433.9" r="3.8" fill="#000093"/><circle cx="553.1" cy="433.0" r="3.8" fill="#000093"/><circle cx="466.8" cy="419.5" r="3.8" fill="#000093"/><circle cx="485.1" cy="427.1" r="3.8" fill="#000093"/><circle cx="460.8" cy="429.6" r="3.8" fill="#000093"/><circle cx="460.8" cy="435.6" r="3.8" fill="#000093"/><circle cx="474.9" cy="438.9" r="3.8" fill="#000093"/><circle cx="537.0" cy="440.6" r="3.8" fill="#000093"/><circle cx="524.3" cy="440.6" r="3.8" fill="#000093"/><circle cx="560.7" cy="436.4" r="3.8" fill="#000093"/><circle cx="565.0" cy="438.9" r="3.8" fill="#000093"/><circle cx="496.4" cy="436.4" r="3.8" fill="#000093"/><circle cx="502.3" cy="436.4" r="3.8" fill="#000093"/><circle cx="505.7" cy="433.0" r="3.8" fill="#000093"/><circle cx="509.1" cy="434.7" r="3.8" fill="#000093"/><circle cx="509.1" cy="438.9" r="3.8" fill="#000093"/><circle cx="490.5" cy="444.0" r="3.8" fill="#000093"/><circle cx="494.7" cy="444.9" r="3.8" fill="#000093"/><circle cx="470.2" cy="445.7" r="3.8" fill="#000093"/><circle cx="475.2" cy="448.3" r="3.8" fill="#000093"/><circle cx="467.6" cy="454.2" r="3.8" fill="#000093"/><circle cx="472.7" cy="455.0" r="3.8" fill="#000093"/><circle cx="487.1" cy="454.2" r="3.8" fill="#000093"/><circle cx="505.7" cy="446.6" r="3.8" fill="#000093"/><circle cx="514.2" cy="448.3" r="3.8" fill="#000093"/><circle cx="521.0" cy="445.7" r="3.8" fill="#000093"/><circle cx="523.5" cy="449.9" r="3.8" fill="#000093"/><circle cx="530.3" cy="452.5" r="3.8" fill="#000093"/><circle cx="538.7" cy="452.5" r="3.8" fill="#000093"/><circle cx="551.4" cy="449.9" r="3.8" fill="#000093"/><circle cx="557.4" cy="449.1" r="3.8" fill="#000093"/><circle cx="565.0" cy="445.7" r="3.8" fill="#000093"/><circle cx="517.6" cy="454.2" r="3.8" fill="#000093"/><circle cx="496.4" cy="450.8" r="3.8" fill="#000093"/><circle cx="504.0" cy="450.8" r="3.8" fill="#000093"/><circle cx="40.0" cy="348.2" r="3.8" fill="#000093"/><circle cx="46.0" cy="349.6" r="3.8" fill="#000093"/><circle cx="47.8" cy="386.7" r="3.8" fill="#000093"/><circle cx="60.9" cy="387.1" r="3.8" fill="#000093"/><circle cx="64.0" cy="394.9" r="3.8" fill="#000093"/><circle cx="146.7" cy="389.3" r="3.8" fill="#000093"/><circle cx="236.0" cy="366.2" r="3.8" fill="#000093"/><circle cx="241.6" cy="361.6" r="3.8" fill="#000093"/><circle cx="242.2" cy="366.7" r="3.8" fill="#000093"/><circle cx="246.7" cy="368.9" r="3.8" fill="#000093"/><circle cx="243.8" cy="373.3" r="3.8" fill="#000093"/><circle cx="246.0" cy="377.8" r="3.8" fill="#000093"/><circle cx="247.6" cy="382.2" r="3.8" fill="#000093"/><circle cx="252.7" cy="382.9" r="3.8" fill="#000093"/><circle cx="238.9" cy="384.4" r="3.8" fill="#000093"/><circle cx="253.8" cy="387.8" r="3.8" fill="#000093"/><circle cx="248.2" cy="392.2" r="3.8" fill="#000093"/><circle cx="253.8" cy="398.9" r="3.8" fill="#000093"/><circle cx="294.2" cy="375.6" r="3.8" fill="#000093"/><circle cx="289.8" cy="380.0" r="3.8" fill="#000093"/><circle cx="292.7" cy="389.3" r="3.8" fill="#000093"/><circle cx="427.1" cy="291.1" r="3.8" fill="#000093"/><circle cx="428.2" cy="295.6" r="3.8" fill="#000093"/><circle cx="432.7" cy="300.0" r="3.8" fill="#000093"/><circle cx="427.1" cy="301.1" r="3.8" fill="#000093"/><circle cx="429.3" cy="306.7" r="3.8" fill="#000093"/><circle cx="427.1" cy="312.2" r="3.8" fill="#000093"/><circle cx="432.7" cy="312.2" r="3.8" fill="#000093"/><circle cx="427.6" cy="320.0" r="3.8" fill="#000093"/><circle cx="453.8" cy="323.8" r="3.8" fill="#000093"/><circle cx="318.2" cy="346.2" r="3.8" fill="#000093"/><circle cx="330.9" cy="354.0" r="3.8" fill="#000093"/><circle cx="428.9" cy="364.9" r="3.8" fill="#000093"/><circle cx="442.7" cy="362.9" r="3.8" fill="#000093"/><circle cx="450.4" cy="368.9" r="3.8" fill="#000093"/><circle cx="326.7" cy="380.0" r="3.8" fill="#000093"/><circle cx="333.8" cy="380.0" r="3.8" fill="#000093"/><circle cx="427.6" cy="380.0" r="3.8" fill="#000093"/><circle cx="439.3" cy="383.3" r="3.8" fill="#000093"/><circle cx="318.2" cy="387.1" r="3.8" fill="#000093"/><circle cx="318.2" cy="395.1" r="3.8" fill="#000093"/><circle cx="336.7" cy="392.7" r="3.8" fill="#000093"/><circle cx="349.3" cy="392.7" r="3.8" fill="#000093"/><circle cx="354.9" cy="392.7" r="3.8" fill="#000093"/><circle cx="407.1" cy="395.1" r="3.8" fill="#000093"/><circle cx="433.8" cy="391.1" r="3.8" fill="#000093"/><circle cx="443.8" cy="387.8" r="3.8" fill="#000093"/><circle cx="440.4" cy="394.4" r="3.8" fill="#000093"/><circle cx="453.8" cy="392.2" r="3.8" fill="#000093"/><circle cx="436.0" cy="398.4" r="3.8" fill="#000093"/><circle cx="444.9" cy="398.4" r="3.8" fill="#000093"/><circle cx="511.8" cy="335.3" r="3.8" fill="#000093"/><circle cx="476.7" cy="369.1" r="3.8" fill="#000093"/><circle cx="528.2" cy="372.7" r="3.8" fill="#000093"/><circle cx="470.0" cy="384.9" r="3.8" fill="#000093"/><circle cx="488.4" cy="391.6" r="3.8" fill="#000093"/><circle cx="487.8" cy="397.8" r="3.8" fill="#000093"/><circle cx="510.0" cy="398.2" r="3.8" fill="#000093"/><circle cx="520.0" cy="394.9" r="3.8" fill="#000093"/><circle cx="524.4" cy="392.7" r="3.8" fill="#000093"/><circle cx="526.2" cy="398.2" r="3.8" fill="#000093"/><circle cx="53.8" cy="486.1" r="3.8" fill="#0000b4"/><circle cx="172.8" cy="449.1" r="3.8" fill="#0000b4"/><circle cx="185.5" cy="449.1" r="3.8" fill="#0000b4"/><circle cx="162.9" cy="452.0" r="3.8" fill="#0000b4"/><circle cx="177.7" cy="458.4" r="3.8" fill="#0000b4"/><circle cx="206.0" cy="460.7" r="3.8" fill="#0000b4"/><circle cx="152.2" cy="466.1" r="3.8" fill="#0000b4"/><circle cx="180.7" cy="486.7" r="3.8" fill="#0000b4"/><circle cx="192.0" cy="486.7" r="3.8" fill="#0000b4"/><circle cx="229.5" cy="485.5" r="3.8" fill="#0000b4"/><circle cx="285.3" cy="459.5" r="3.8" fill="#0000b4"/><circle cx="272.8" cy="469.2" r="3.8" fill="#0000b4"/><circle cx="282.9" cy="482.4" r="3.8" fill="#0000b4"/><circle cx="281.1" cy="486.7" r="3.8" fill="#0000b4"/><circle cx="338.0" cy="457.9" r="3.8" fill="#0000b4"/><circle cx="337.0" cy="461.1" r="3.8" fill="#0000b4"/><circle cx="326.3" cy="466.9" r="3.8" fill="#0000b4"/><circle cx="321.3" cy="473.6" r="3.8" fill="#0000b4"/><circle cx="325.9" cy="484.0" r="3.8" fill="#0000b4"/><circle cx="414.0" cy="450.4" r="3.8" fill="#0000b4"/><circle cx="418.3" cy="447.5" r="3.8" fill="#0000b4"/><circle cx="402.8" cy="460.7" r="3.8" fill="#0000b4"/><circle cx="448.3" cy="470.4" r="3.8" fill="#0000b4"/><circle cx="436.9" cy="476.0" r="3.8" fill="#0000b4"/><circle cx="385.2" cy="479.2" r="3.8" fill="#0000b4"/><circle cx="385.5" cy="482.1" r="3.8" fill="#0000b4"/><circle cx="368.0" cy="482.6" r="3.8" fill="#0000b4"/><circle cx="473.4" cy="468.9" r="3.8" fill="#0000b4"/><circle cx="487.6" cy="472.5" r="3.8" fill="#0000b4"/><circle cx="562.5" cy="474.0" r="3.8" fill="#0000b4"/><circle cx="521.9" cy="483.9" r="3.8" fill="#0000b4"/><circle cx="121.5" cy="472.6" r="3.8" fill="#0000b4"/><circle cx="57.9" cy="475.4" r="3.8" fill="#0000b4"/><circle cx="83.3" cy="474.6" r="3.8" fill="#0000b4"/><circle cx="139.5" cy="473.8" r="3.8" fill="#0000b4"/><circle cx="102.4" cy="481.0" r="3.8" fill="#0000b4"/><circle cx="154.4" cy="467.6" r="3.8" fill="#0000b4"/><circle cx="205.6" cy="467.3" r="3.8" fill="#0000b4"/><circle cx="286.9" cy="467.4" r="3.8" fill="#0000b4"/><circle cx="180.2" cy="469.3" r="3.8" fill="#0000b4"/><circle cx="266.3" cy="470.5" r="3.8" fill="#0000b4"/><circle cx="306.1" cy="471.1" r="3.8" fill="#0000b4"/><circle cx="409.4" cy="470.0" r="3.8" fill="#0000b4"/><circle cx="417.8" cy="469.0" r="3.8" fill="#0000b4"/><circle cx="511.3" cy="471.0" r="3.8" fill="#0000b4"/><circle cx="237.3" cy="475.1" r="3.8" fill="#0000b4"/><circle cx="476.9" cy="474.6" r="3.8" fill="#0000b4"/><circle cx="507.8" cy="473.5" r="3.8" fill="#0000b4"/><circle cx="546.0" cy="474.6" r="3.8" fill="#0000b4"/><circle cx="284.9" cy="478.1" r="3.8" fill="#0000b4"/><circle cx="479.8" cy="478.7" r="3.8" fill="#0000b4"/><circle cx="504.7" cy="477.5" r="3.8" fill="#0000b4"/><circle cx="275.5" cy="484.2" r="3.8" fill="#0000b4"/><circle cx="307.1" cy="484.4" r="3.8" fill="#0000b4"/><circle cx="479.2" cy="483.4" r="3.8" fill="#0000b4"/><circle cx="502.2" cy="481.5" r="3.8" fill="#0000b4"/><circle cx="192.5" cy="486.7" r="3.8" fill="#0000b4"/><circle cx="358.7" cy="485.6" r="3.8" fill="#0000b4"/><circle cx="188.7" cy="457.7" r="3.8" fill="#0000b4"/><circle cx="225.2" cy="457.6" r="3.8" fill="#0000b4"/><circle cx="143.7" cy="460.2" r="3.8" fill="#0000b4"/><circle cx="293.9" cy="462.8" r="3.8" fill="#0000b4"/><circle cx="297.8" cy="461.7" r="3.8" fill="#0000b4"/><circle cx="422.4" cy="462.1" r="3.8" fill="#0000b4"/><circle cx="546.5" cy="462.4" r="3.8" fill="#0000b4"/><circle cx="553.7" cy="461.9" r="3.8" fill="#0000b4"/><circle cx="546.9" cy="464.2" r="3.8" fill="#0000b4"/><circle cx="278.7" cy="451.6" r="3.8" fill="#0000dc"/><circle cx="256.2" cy="454.4" r="3.8" fill="#0000dc"/><circle cx="262.0" cy="455.4" r="3.8" fill="#0000dc"/><circle cx="271.6" cy="456.8" r="3.8" fill="#0000dc"/><circle cx="274.3" cy="456.7" r="3.8" fill="#0000dc"/><circle cx="266.7" cy="459.5" r="3.8" fill="#0000dc"/><circle cx="271.8" cy="463.4" r="3.8" fill="#0000dc"/><circle cx="264.7" cy="471.4" r="3.8" fill="#0000dc"/><circle cx="274.4" cy="471.9" r="3.8" fill="#0000dc"/><circle cx="283.0" cy="472.8" r="3.8" fill="#0000dc"/><circle cx="274.5" cy="477.7" r="3.8" fill="#0000dc"/><circle cx="277.6" cy="476.1" r="3.8" fill="#0000dc"/><circle cx="261.1" cy="479.9" r="3.8" fill="#0000dc"/><circle cx="265.2" cy="479.9" r="3.8" fill="#0000dc"/><circle cx="270.9" cy="480.3" r="3.8" fill="#0000dc"/><circle cx="275.4" cy="479.3" r="3.8" fill="#0000dc"/><circle cx="284.5" cy="482.1" r="3.8" fill="#0000dc"/><circle cx="332.9" cy="471.3" r="3.8" fill="#0000dc"/><circle cx="338.1" cy="477.1" r="3.8" fill="#0000dc"/><circle cx="345.1" cy="475.9" r="3.8" fill="#0000dc"/><circle cx="325.0" cy="480.1" r="3.8" fill="#0000dc"/><circle cx="329.1" cy="484.7" r="3.8" fill="#0000dc"/><circle cx="358.3" cy="436.3" r="3.8" fill="#0000dc"/><circle cx="355.1" cy="439.3" r="3.8" fill="#0000dc"/><circle cx="357.3" cy="440.0" r="3.8" fill="#0000dc"/><circle cx="361.7" cy="437.3" r="3.8" fill="#0000dc"/><circle cx="356.7" cy="443.7" r="3.8" fill="#0000dc"/><circle cx="358.7" cy="449.5" r="3.8" fill="#0000dc"/><circle cx="358.2" cy="453.6" r="3.8" fill="#0000dc"/><circle cx="357.3" cy="457.2" r="3.8" fill="#0000dc"/><circle cx="361.3" cy="455.7" r="3.8" fill="#0000dc"/><circle cx="391.3" cy="468.8" r="3.8" fill="#0000dc"/><circle cx="388.7" cy="480.7" r="3.8" fill="#0000dc"/><circle cx="365.6" cy="445.4" r="3.8" fill="#0000dc"/><circle cx="360.6" cy="446.8" r="3.8" fill="#0000dc"/><circle cx="346.8" cy="452.9" r="3.8" fill="#0000dc"/><circle cx="349.8" cy="456.1" r="3.8" fill="#0000dc"/><circle cx="353.6" cy="457.0" r="3.8" fill="#0000dc"/><circle cx="368.2" cy="455.9" r="3.8" fill="#0000dc"/><circle cx="360.7" cy="460.1" r="3.8" fill="#0000dc"/><circle cx="360.2" cy="472.1" r="3.8" fill="#0000dc"/><circle cx="404.8" cy="472.2" r="3.8" fill="#0000dc"/><circle cx="360.9" cy="477.5" r="3.8" fill="#0000dc"/><circle cx="364.5" cy="477.5" r="3.8" fill="#0000dc"/><circle cx="380.3" cy="476.6" r="3.8" fill="#0000dc"/><circle cx="366.1" cy="480.6" r="3.8" fill="#0000dc"/><circle cx="382.4" cy="479.0" r="3.8" fill="#0000dc"/><circle cx="371.4" cy="482.6" r="3.8" fill="#0000dc"/><circle cx="380.5" cy="482.6" r="3.8" fill="#0000dc"/><circle cx="398.1" cy="484.6" r="3.8" fill="#0000dc"/><circle cx="336.4" cy="471.8" r="3.8" fill="#0000dc"/><circle cx="335.1" cy="480.2" r="3.8" fill="#0000dc"/><circle cx="348.7" cy="402.5" r="3.8" fill="#0000dc"/><circle cx="334.4" cy="420.3" r="3.8" fill="#0000dc"/><circle cx="281.9" cy="422.0" r="3.8" fill="#0000dc"/><circle cx="282.7" cy="427.1" r="3.8" fill="#0000dc"/><circle cx="280.2" cy="435.6" r="3.8" fill="#0000dc"/><circle cx="275.1" cy="421.2" r="3.8" fill="#0000dc"/><circle cx="272.6" cy="433.9" r="3.8" fill="#0000dc"/><circle cx="273.4" cy="445.7" r="3.8" fill="#0000dc"/><circle cx="313.2" cy="444.9" r="3.8" fill="#0000dc"/><circle cx="311.5" cy="449.9" r="3.8" fill="#0000dc"/><circle cx="351.3" cy="432.2" r="3.8" fill="#0000dc"/><circle cx="352.1" cy="436.4" r="3.8" fill="#0000dc"/><circle cx="349.6" cy="440.6" r="3.8" fill="#0000dc"/><circle cx="353.0" cy="444.9" r="3.8" fill="#0000dc"/><circle cx="350.4" cy="449.1" r="3.8" fill="#0000dc"/><circle cx="352.1" cy="453.3" r="3.8" fill="#0000dc"/><circle cx="346.2" cy="407.6" r="3.8" fill="#0028ff"/><circle cx="288.6" cy="416.1" r="3.8" fill="#0028ff"/><circle cx="292.9" cy="416.1" r="3.8" fill="#0028ff"/><circle cx="345.4" cy="416.9" r="3.8" fill="#0028ff"/><circle cx="284.4" cy="431.3" r="3.8" fill="#0028ff"/><circle cx="284.4" cy="453.3" r="3.8" fill="#0028ff"/><circle cx="324.2" cy="415.2" r="3.8" fill="#0050ff"/><circle cx="294.6" cy="427.1" r="3.8" fill="#0050ff"/><circle cx="298.8" cy="427.1" r="3.8" fill="#0050ff"/><circle cx="302.2" cy="427.9" r="3.8" fill="#0050ff"/><circle cx="309.8" cy="427.9" r="3.8" fill="#0050ff"/><circle cx="315.7" cy="427.1" r="3.8" fill="#0050ff"/><circle cx="320.8" cy="426.8" r="3.8" fill="#0050ff"/><circle cx="325.9" cy="426.8" r="3.8" fill="#0050ff"/><circle cx="336.0" cy="427.1" r="3.8" fill="#0050ff"/><circle cx="341.1" cy="427.1" r="3.8" fill="#0050ff"/><circle cx="345.4" cy="426.8" r="3.8" fill="#0050ff"/><circle cx="281.0" cy="460.1" r="3.8" fill="#0050ff"/><circle cx="317.4" cy="411.9" r="3.8" fill="#00ffff"/><circle cx="282.7" cy="473.7" r="3.8" fill="#0078ff"/><circle cx="278.5" cy="477.9" r="3.8" fill="#0078ff"/><circle cx="270.0" cy="479.6" r="3.8" fill="#0078ff"/><circle cx="264.9" cy="483.0" r="3.8" fill="#0078ff"/><circle cx="273.4" cy="483.8" r="3.8" fill="#0078ff"/><circle cx="275.9" cy="484.7" r="3.8" fill="#0078ff"/><circle cx="408.2" cy="404.2" r="3.8" fill="#0028ff"/><circle cx="412.4" cy="403.4" r="3.8" fill="#0028ff"/><circle cx="417.5" cy="403.4" r="3.8" fill="#0028ff"/><circle cx="420.9" cy="406.8" r="3.8" fill="#0028ff"/><circle cx="422.6" cy="411.9" r="3.8" fill="#0028ff"/><circle cx="423.4" cy="416.9" r="3.8" fill="#0028ff"/><circle cx="406.5" cy="410.2" r="3.8" fill="#0028ff"/><circle cx="407.3" cy="416.1" r="3.8" fill="#0028ff"/><circle cx="404.8" cy="420.3" r="3.8" fill="#0028ff"/><circle cx="411.6" cy="427.1" r="3.8" fill="#0028ff"/><circle cx="415.0" cy="429.6" r="3.8" fill="#0028ff"/><circle cx="417.5" cy="422.0" r="3.8" fill="#0028ff"/><circle cx="371.8" cy="452.5" r="3.8" fill="#0028ff"/><circle cx="378.6" cy="452.5" r="3.8" fill="#0028ff"/><circle cx="442.9" cy="426.2" r="3.8" fill="#0050ff"/><circle cx="450.5" cy="444.0" r="3.8" fill="#0050ff"/><circle cx="433.6" cy="449.1" r="3.8" fill="#0050ff"/><circle cx="459.0" cy="459.3" r="3.8" fill="#0050ff"/><circle cx="381.9" cy="423.7" r="3.8" fill="#40f0b4"/><circle cx="385.3" cy="423.7" r="3.8" fill="#40f0b4"/><circle cx="388.7" cy="423.7" r="3.8" fill="#40f0b4"/><circle cx="392.1" cy="423.7" r="3.8" fill="#40f0b4"/><circle cx="395.5" cy="423.7" r="3.8" fill="#40f0b4"/><circle cx="398.9" cy="423.7" r="3.8" fill="#40f0b4"/><circle cx="402.3" cy="423.7" r="3.8" fill="#40f0b4"/><circle cx="381.9" cy="427.9" r="3.8" fill="#40f0b4"/><circle cx="385.3" cy="427.9" r="3.8" fill="#40f0b4"/><circle cx="388.7" cy="427.9" r="3.8" fill="#40f0b4"/><circle cx="392.1" cy="427.9" r="3.8" fill="#40f0b4"/><circle cx="395.5" cy="427.9" r="3.8" fill="#40f0b4"/><circle cx="398.9" cy="427.9" r="3.8" fill="#40f0b4"/><circle cx="402.3" cy="427.9" r="3.8" fill="#40f0b4"/><circle cx="395.5" cy="418.6" r="3.8" fill="#40f0b4"/><circle cx="399.7" cy="415.2" r="3.8" fill="#40f0b4"/><circle cx="407.3" cy="424.6" r="3.8" fill="#00dcff"/><circle cx="400.6" cy="461.0" r="3.8" fill="#00dcff"/><circle cx="405.6" cy="461.0" r="3.8" fill="#00dcff"/><circle cx="408.2" cy="461.0" r="3.8" fill="#00dcff"/><circle cx="414.1" cy="461.0" r="3.8" fill="#00dcff"/><circle cx="418.3" cy="461.0" r="3.8" fill="#00dcff"/><circle cx="421.7" cy="423.7" r="3.8" fill="#00b4ff"/><circle cx="421.7" cy="427.9" r="3.8" fill="#00b4ff"/><circle cx="420.9" cy="433.9" r="3.8" fill="#0096ff"/><circle cx="421.7" cy="438.9" r="3.8" fill="#0096ff"/><circle cx="484.6" cy="438.9" r="3.8" fill="#0000dc"/><circle cx="462.5" cy="444.9" r="3.8" fill="#0000dc"/><circle cx="543.0" cy="448.3" r="3.8" fill="#0000dc"/><circle cx="561.6" cy="448.3" r="3.8" fill="#0000dc"/><circle cx="460.8" cy="459.3" r="3.8" fill="#0000dc"/><circle cx="519.3" cy="463.5" r="3.8" fill="#0000dc"/><circle cx="296.0" cy="387.1" r="3.8" fill="#0000dc"/><circle cx="424.4" cy="342.2" r="3.8" fill="#0028ff"/><circle cx="424.4" cy="345.6" r="3.8" fill="#0028ff"/><circle cx="376.4" cy="386.7" r="3.8" fill="#0028ff"/><circle cx="423.8" cy="393.8" r="3.8" fill="#0028ff"/><circle cx="353.8" cy="380.0" r="3.8" fill="#0050ff"/><circle cx="357.1" cy="380.0" r="3.8" fill="#0050ff"/><circle cx="352.7" cy="387.8" r="3.8" fill="#0050ff"/><circle cx="348.2" cy="451.1" r="3.8" fill="#0000dc"/><circle cx="352.7" cy="450.0" r="3.8" fill="#0000dc"/><circle cx="357.1" cy="448.9" r="3.8" fill="#0000dc"/><circle cx="361.6" cy="452.2" r="3.8" fill="#0000dc"/><circle cx="366.0" cy="454.4" r="3.8" fill="#0000dc"/><circle cx="363.8" cy="461.1" r="3.8" fill="#0000dc"/><circle cx="368.2" cy="462.2" r="3.8" fill="#0000dc"/><circle cx="366.0" cy="466.7" r="3.8" fill="#0000dc"/><circle cx="372.0" cy="452.0" r="3.8" fill="#0028ff"/><circle cx="376.4" cy="452.0" r="3.8" fill="#0028ff"/><circle cx="380.7" cy="453.0" r="3.8" fill="#0028ff"/>
<circle cx="328.5" cy="271.7" r="3.75" fill="#8e0010"/>
<line x1="382.9" y1="255.7" x2="341.1" y2="267.8" stroke="#8e0010" stroke-width="2.0"/><polygon points="335.2,269.5 341.7,262.6 341.1,267.8 344.4,271.8" fill="#8e0010"/>
<text x="304.9" y="249.5" font-size="20.8" fill="#8e0010" text-anchor="start" letter-spacing="0.20" >rs79727797 (468 individuals)</text>
<path d="M296.9 82.8 L309.1 95.4 M296.9 95.4 L309.1 82.8" stroke="#ff0000" stroke-width="2.5" fill="none"/>
<path d="M296.9 77.0 L309.1 89.6 M296.9 89.6 L309.1 77.0" stroke="#0000ff" stroke-width="2.5" fill="none"/>
<path d="M296.9 144.3 L309.1 156.9 M296.9 156.9 L309.1 144.3" stroke="#000" stroke-width="2.5" fill="none"/>
<line x1="357.5" y1="83.4" x2="315.9" y2="83.4" stroke="#0000ff" stroke-width="2.0"/><polygon points="309.8,83.4 318.0,78.6 315.9,83.4 318.0,88.2" fill="#0000ff"/>
<line x1="357.5" y1="107.0" x2="315.6" y2="93.1" stroke="#ff0000" stroke-width="2.0"/><polygon points="309.8,91.2 319.1,89.2 315.6,93.1 316.1,98.3" fill="#ff0000"/>
<line x1="358.0" y1="150.5" x2="315.9" y2="150.5" stroke="#000" stroke-width="2.0"/><polygon points="309.8,150.5 318.0,145.7 315.9,150.5 318.0,155.3" fill="#000"/>
<text x="362.8" y="89.3" font-size="20.8" fill="#0000ff" text-anchor="start" letter-spacing="0.15" >QTR (610 individuals)</text>
<text x="361.3" y="114.7" font-size="20.8" fill="#ff0000" text-anchor="start" letter-spacing="0.18" >STR (610 individuals)</text>
<text x="362.8" y="157.2" font-size="20.8" fill="#000" text-anchor="start" letter-spacing="0.15" >QTR (468 individuals)</text>
</svg>
</body></html>
